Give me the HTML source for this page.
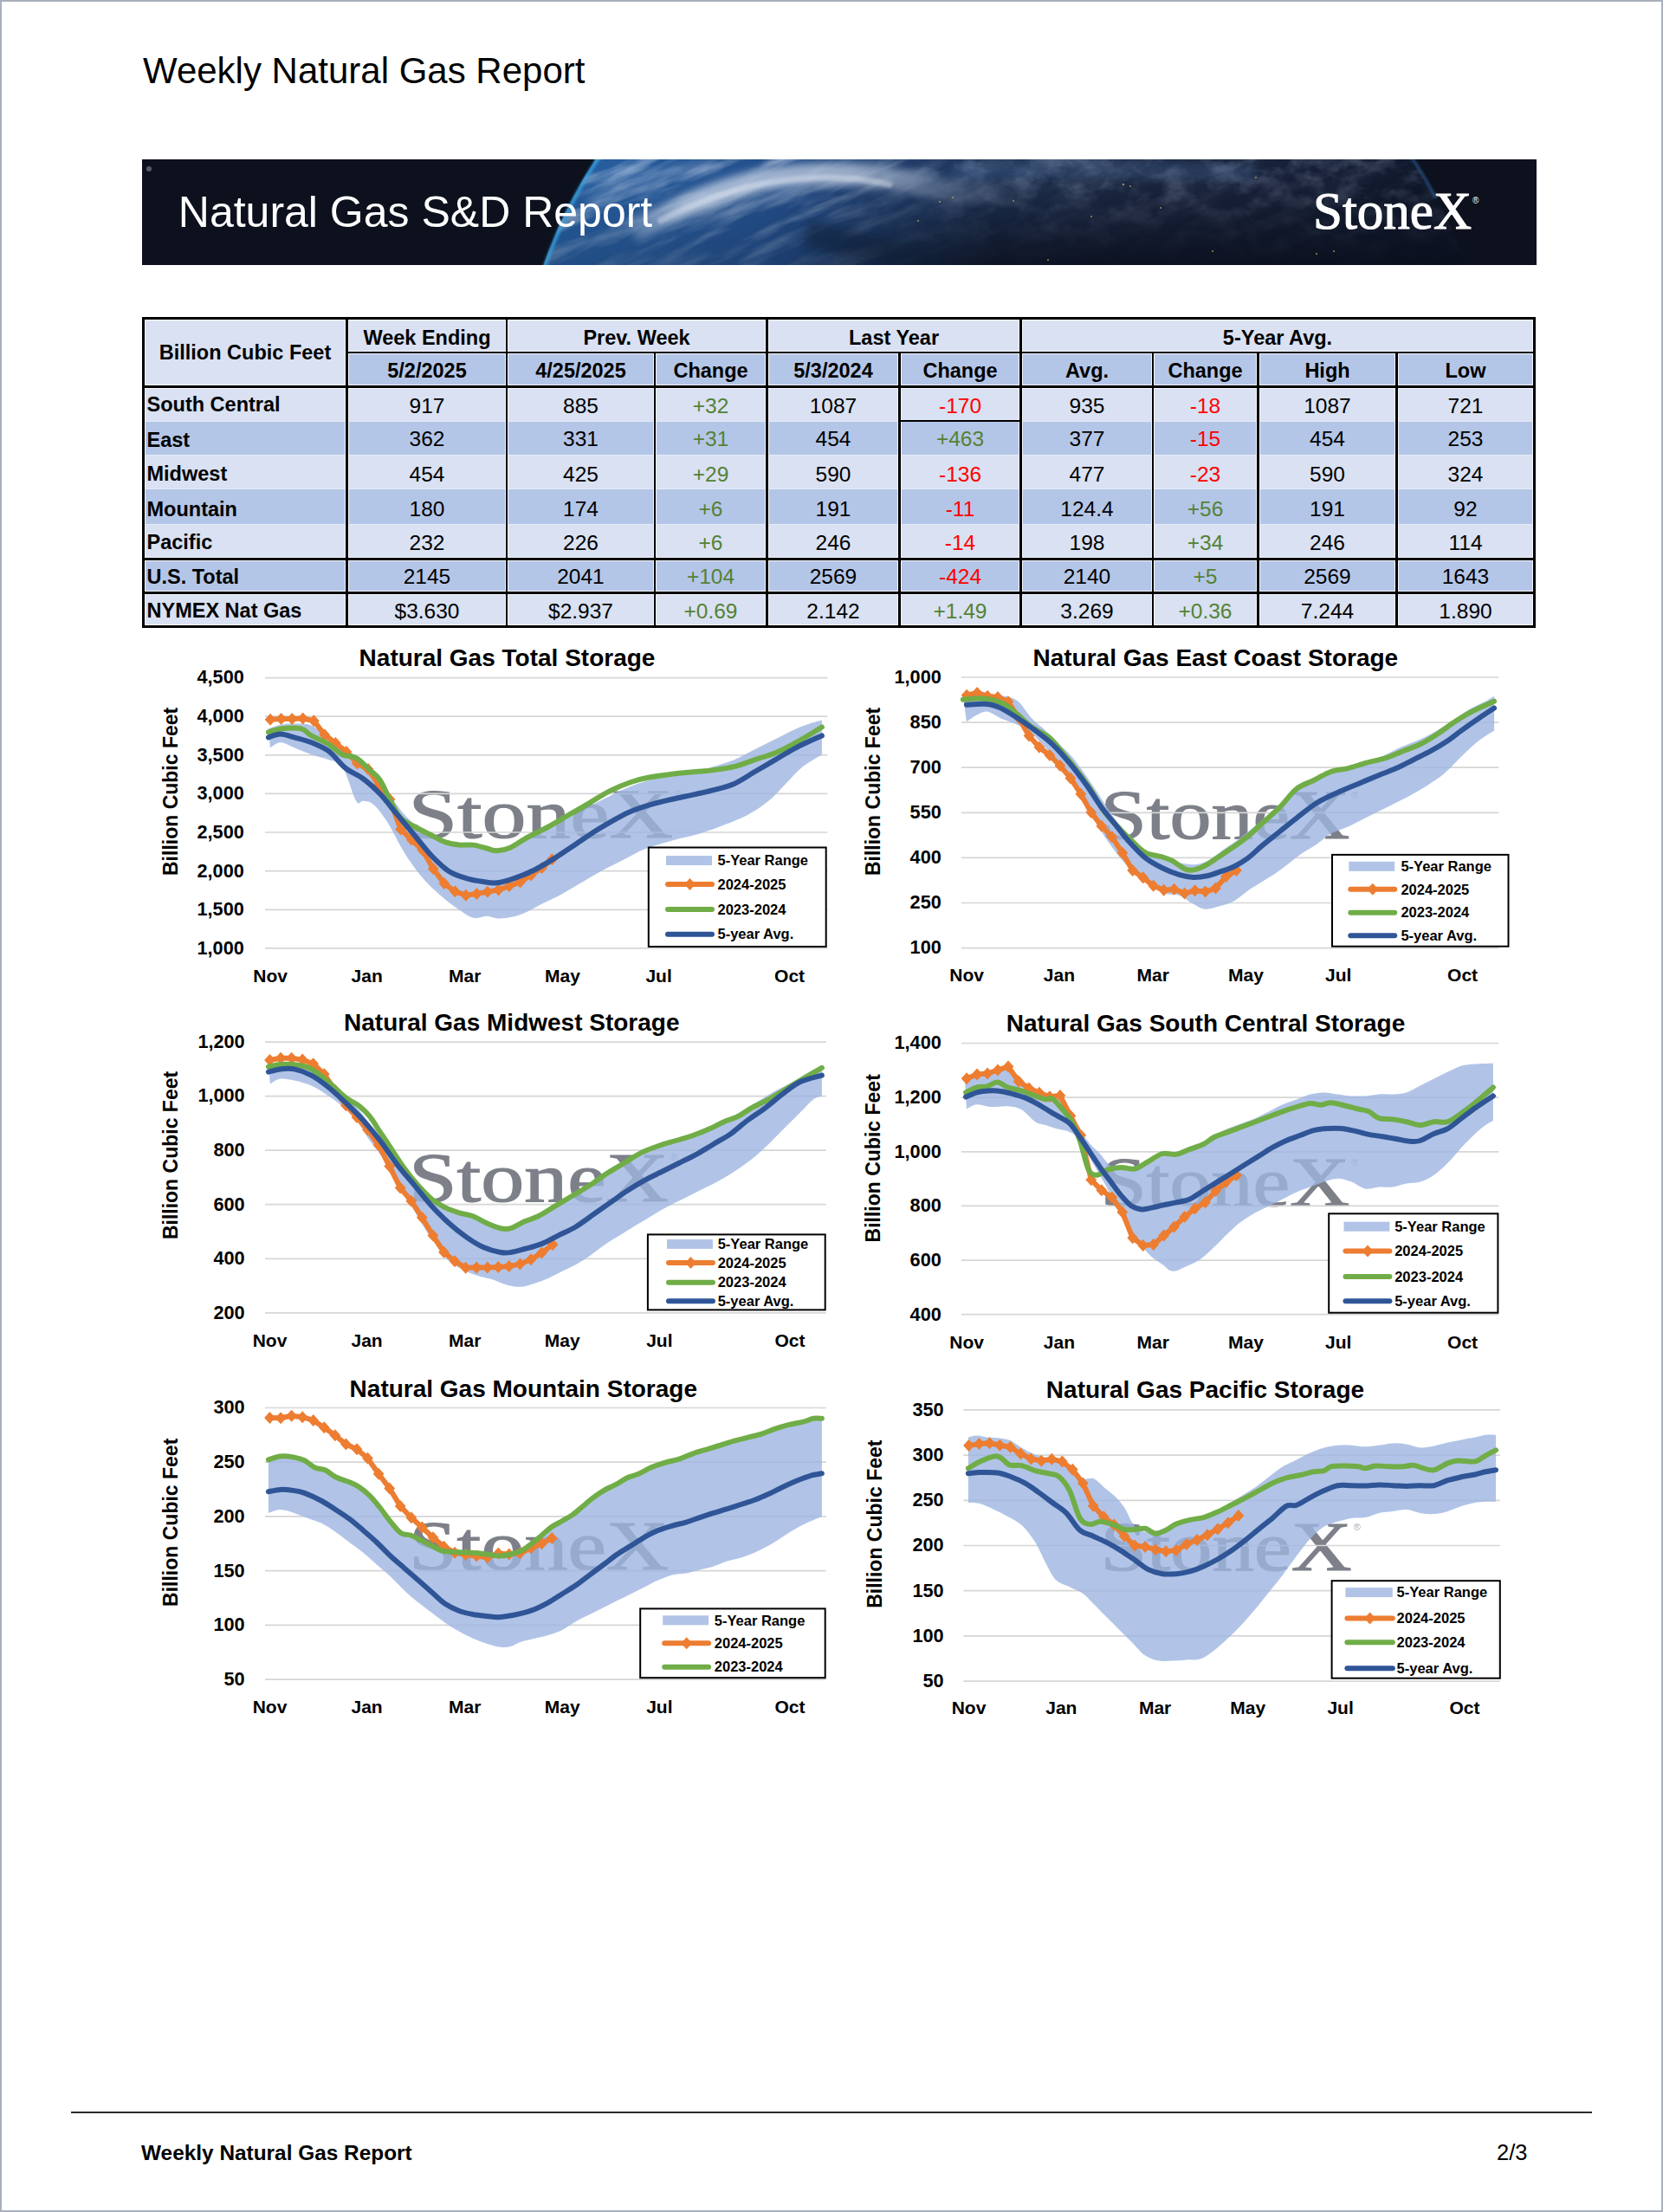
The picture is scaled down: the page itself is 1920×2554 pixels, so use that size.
<!DOCTYPE html>
<html><head><meta charset="utf-8">
<style>
html,body{margin:0;padding:0;}
body{width:1920px;height:2554px;position:relative;background:#fff;overflow:hidden;font-family:"Liberation Sans",sans-serif;color:#000;}
.frame{position:absolute;left:0;top:0;width:1916px;height:2550px;border:2px solid #a9b0bc;}
.abs{position:absolute;white-space:nowrap;line-height:1;}
#banner{position:absolute;left:164px;top:184px;width:1610px;height:122px;overflow:hidden;background:#0d111d;}
#tbl{position:absolute;left:0;top:0;}
.c{position:absolute;text-align:center;white-space:nowrap;line-height:1;}
.b{font-weight:700;font-size:23.5px;}
.d{font-size:24.5px;}
.g{color:#548235;}
.r{color:#ff0000;}
</style></head>
<body>
<div class="frame"></div>
<div class="abs" style="left:165px;top:60.5px;font-size:42px;">Weekly Natural Gas Report</div>

<div id="banner"><svg width="1610" height="122" viewBox="164 184 1610 122" style="position:absolute;left:0;top:0">
<defs>
<linearGradient id="eg" gradientUnits="userSpaceOnUse" x1="620" y1="0" x2="1700" y2="0">
<stop offset="0" stop-color="#2660a3"/>
<stop offset="0.12" stop-color="#275a9a"/>
<stop offset="0.28" stop-color="#234d88"/>
<stop offset="0.38" stop-color="#213f6d"/>
<stop offset="0.48" stop-color="#1e3254"/>
<stop offset="0.62" stop-color="#1c2944"/>
<stop offset="0.8" stop-color="#172139"/>
<stop offset="0.92" stop-color="#111a2e"/>
<stop offset="1" stop-color="#0f1628"/>
</linearGradient>
<filter id="tb" x="0" y="0" width="100%" height="100%"><feTurbulence type="fractalNoise" baseFrequency="0.010 0.06" numOctaves="4" seed="7"/><feColorMatrix type="matrix" values="0 0 0 0 0.82  0 0 0 0 0.88  0 0 0 0 0.98  0 0 0 2.6 -1.15"/></filter>
<linearGradient id="tm" gradientUnits="userSpaceOnUse" x1="620" y1="0" x2="1700" y2="0"><stop offset="0" stop-color="#fff" stop-opacity="1"/><stop offset="0.3" stop-color="#fff" stop-opacity="0.8"/><stop offset="0.42" stop-color="#fff" stop-opacity="0.25"/><stop offset="1" stop-color="#fff" stop-opacity="0.08"/></linearGradient>
<mask id="tmask"><rect x="600" y="184" width="1200" height="122" fill="url(#tm)"/></mask>
<linearGradient id="vd" gradientUnits="userSpaceOnUse" x1="0" y1="200" x2="0" y2="306"><stop offset="0" stop-color="#0a0e1b" stop-opacity="0"/><stop offset="0.45" stop-color="#0a0e1b" stop-opacity="0.35"/><stop offset="1" stop-color="#0a0e1b" stop-opacity="0.85"/></linearGradient>
<linearGradient id="hm" gradientUnits="userSpaceOnUse" x1="880" y1="0" x2="1150" y2="0"><stop offset="0" stop-color="#fff" stop-opacity="0.25"/><stop offset="1" stop-color="#fff" stop-opacity="1"/></linearGradient>
<mask id="hmask"><rect x="600" y="184" width="1200" height="122" fill="url(#hm)"/></mask>
<filter id="bl" x="-50%" y="-200%" width="200%" height="500%"><feGaussianBlur stdDeviation="5"/></filter>
<filter id="bl3" x="-50%" y="-200%" width="200%" height="500%"><feGaussianBlur stdDeviation="3"/></filter>
<filter id="bl2" x="-50%" y="-200%" width="200%" height="500%"><feGaussianBlur stdDeviation="1.5"/></filter>
<filter id="tb2" x="0" y="0" width="100%" height="100%"><feTurbulence type="fractalNoise" baseFrequency="0.035 0.05" numOctaves="4" seed="11"/><feColorMatrix type="matrix" values="0 0 0 0 0.6  0 0 0 0 0.7  0 0 0 0 0.9  0 0 0 2.4 -1.0"/></filter>
<linearGradient id="tm2" gradientUnits="userSpaceOnUse" x1="0" y1="184" x2="0" y2="306"><stop offset="0" stop-color="#fff" stop-opacity="0.8"/><stop offset="0.5" stop-color="#fff" stop-opacity="0.45"/><stop offset="1" stop-color="#fff" stop-opacity="0.1"/></linearGradient>
<mask id="tmask2"><rect x="950" y="184" width="850" height="122" fill="url(#tm2)"/></mask>
<linearGradient id="hm2" gradientUnits="userSpaceOnUse" x1="950" y1="0" x2="1120" y2="0"><stop offset="0" stop-color="#fff" stop-opacity="0"/><stop offset="1" stop-color="#fff" stop-opacity="1"/></linearGradient>
<mask id="hmask2"><rect x="900" y="184" width="900" height="122" fill="url(#hm2)"/></mask>
<linearGradient id="sg" gradientUnits="userSpaceOnUse" x1="720" y1="0" x2="1200" y2="0"><stop offset="0" stop-color="#d0daea" stop-opacity="0.2"/><stop offset="0.15" stop-color="#d0daea" stop-opacity="1"/><stop offset="0.55" stop-color="#d0daea" stop-opacity="0.9"/><stop offset="0.8" stop-color="#9fb0c8" stop-opacity="0.35"/><stop offset="1" stop-color="#9fb0c8" stop-opacity="0"/></linearGradient>
<linearGradient id="tv" gradientUnits="userSpaceOnUse" x1="0" y1="184" x2="0" y2="306"><stop offset="0" stop-color="#fff" stop-opacity="1"/><stop offset="0.6" stop-color="#fff" stop-opacity="0.75"/><stop offset="1" stop-color="#fff" stop-opacity="0.4"/></linearGradient>
<mask id="tvmask"><rect x="600" y="184" width="1200" height="122" fill="url(#tv)"/></mask>
<clipPath id="ec"><circle cx="1160" cy="492" r="564"/></clipPath>
<clipPath id="lc"><rect x="600" y="184" width="150" height="122"/></clipPath>
<clipPath id="rc"><rect x="1580" y="184" width="120" height="45"/></clipPath>
</defs>
<rect x="164" y="184" width="1610" height="122" fill="#0d111d"/>
<circle cx="1160" cy="492" r="564" fill="url(#eg)"/>
<g clip-path="url(#ec)">
<g mask="url(#tvmask)"><g mask="url(#tmask)"><rect x="400" y="-200" width="1500" height="900" filter="url(#tb)" opacity="0.55" transform="rotate(-22 1000 245)"/></g></g>
<g mask="url(#tmask2)"><rect x="950" y="184" width="800" height="122" filter="url(#tb2)" mask="url(#hmask2)" opacity="0.35"/></g>
<rect x="600" y="184" width="1200" height="122" fill="url(#vd)" mask="url(#hmask)"/>
<path d="M730 268 C 785 238, 845 212, 900 205 S 1010 200, 1060 212 S 1150 222, 1200 222" stroke="url(#sg)" stroke-width="26" fill="none" opacity="0.75" filter="url(#bl)"/>
<path d="M760 256 C 800 234, 850 216, 900 209 S 990 204, 1030 214" stroke="#eef2f8" stroke-width="7" fill="none" opacity="0.35" filter="url(#bl2)"/>
<path d="M680 236 C 715 212, 770 198, 830 190" stroke="#b9c8e0" stroke-width="12" fill="none" opacity="0.3" filter="url(#bl)"/>
<path d="M1100 200 C 1200 190, 1300 195, 1450 200" stroke="#4a6a9a" stroke-width="20" fill="none" opacity="0.3" filter="url(#bl)"/>
<path d="M930 270 C 980 280, 1040 295, 1080 306" stroke="#0f1a33" stroke-width="30" fill="none" opacity="0.45" filter="url(#bl)"/>
</g>
<circle cx="1160" cy="492" r="562" fill="none" stroke="#35a0dc" stroke-width="4" opacity="0.85" filter="url(#bl2)" clip-path="url(#lc)"/>
<circle cx="1160" cy="492" r="563" fill="none" stroke="#2f5d9a" stroke-width="3" opacity="0.7" filter="url(#bl2)" clip-path="url(#rc)"/>
<g fill="#c9a45a" opacity="0.8">
<circle cx="1297" cy="213" r="1.2"/><circle cx="1305" cy="215" r="1"/><circle cx="1450" cy="205" r="1"/><circle cx="1170" cy="232" r="1"/><circle cx="1260" cy="250" r="1"/><circle cx="1340" cy="240" r="1"/><circle cx="1400" cy="290" r="1"/><circle cx="1520" cy="293" r="1"/><circle cx="1540" cy="290" r="1"/><circle cx="1060" cy="255" r="1"/><circle cx="1210" cy="300" r="1"/><circle cx="1085" cy="233" r="1"/><circle cx="1100" cy="228" r="1"/>
</g>
<text x="205.8" y="262" font-family="Liberation Sans" font-size="50" fill="#fff">Natural Gas S&amp;D Report</text>
<text x="1516" y="264" font-family="Liberation Serif" font-size="61" fill="#fff" stroke="#fff" stroke-width="1.1">StoneX</text>
<text x="1700" y="235" font-family="Liberation Sans" font-size="10" fill="#fff">®</text>
<circle cx="172" cy="195" r="3" fill="#6b6f7a" opacity="0.8"/>
</svg>
</div>

<div id="tbl"><div style="position:absolute;left:164px;top:366px;width:1609px;height:359px;background:#d9e1f2"></div>
<div style="position:absolute;left:399px;top:406px;width:1374px;height:40px;background:#b4c6e7"></div>
<div style="position:absolute;left:164px;top:486px;width:1609px;height:39px;background:#b4c6e7"></div>
<div style="position:absolute;left:164px;top:564px;width:1609px;height:41px;background:#b4c6e7"></div>
<div style="position:absolute;left:164px;top:645px;width:1609px;height:39px;background:#b4c6e7"></div>
<div style="position:absolute;left:167px;top:369px;width:1px;height:353px;background:#f3f5fb"></div>
<div style="position:absolute;left:398px;top:369px;width:1px;height:353px;background:#f3f5fb"></div>
<div style="position:absolute;left:402px;top:369px;width:1px;height:353px;background:#f3f5fb"></div>
<div style="position:absolute;left:583px;top:369px;width:1px;height:353px;background:#f3f5fb"></div>
<div style="position:absolute;left:586px;top:369px;width:1px;height:353px;background:#f3f5fb"></div>
<div style="position:absolute;left:754px;top:408px;width:1px;height:314px;background:#f3f5fb"></div>
<div style="position:absolute;left:757px;top:408px;width:1px;height:314px;background:#f3f5fb"></div>
<div style="position:absolute;left:883px;top:369px;width:1px;height:353px;background:#f3f5fb"></div>
<div style="position:absolute;left:887px;top:369px;width:1px;height:353px;background:#f3f5fb"></div>
<div style="position:absolute;left:1036px;top:408px;width:1px;height:314px;background:#f3f5fb"></div>
<div style="position:absolute;left:1040px;top:408px;width:1px;height:314px;background:#f3f5fb"></div>
<div style="position:absolute;left:1176px;top:369px;width:1px;height:353px;background:#f3f5fb"></div>
<div style="position:absolute;left:1180px;top:369px;width:1px;height:353px;background:#f3f5fb"></div>
<div style="position:absolute;left:1329px;top:408px;width:1px;height:314px;background:#f3f5fb"></div>
<div style="position:absolute;left:1332px;top:408px;width:1px;height:314px;background:#f3f5fb"></div>
<div style="position:absolute;left:1450px;top:408px;width:1px;height:314px;background:#f3f5fb"></div>
<div style="position:absolute;left:1454px;top:408px;width:1px;height:314px;background:#f3f5fb"></div>
<div style="position:absolute;left:1610px;top:408px;width:1px;height:314px;background:#f3f5fb"></div>
<div style="position:absolute;left:1614px;top:408px;width:1px;height:314px;background:#f3f5fb"></div>
<div style="position:absolute;left:1769px;top:369px;width:1px;height:353px;background:#f3f5fb"></div>
<div style="position:absolute;left:164px;top:369px;width:1609px;height:1px;background:#f3f5fb"></div>
<div style="position:absolute;left:399px;top:405px;width:1374px;height:1px;background:#f3f5fb"></div>
<div style="position:absolute;left:399px;top:408px;width:1374px;height:1px;background:#f3f5fb"></div>
<div style="position:absolute;left:164px;top:444px;width:1609px;height:1px;background:#f3f5fb"></div>
<div style="position:absolute;left:164px;top:448px;width:1609px;height:1px;background:#f3f5fb"></div>
<div style="position:absolute;left:164px;top:643px;width:1609px;height:1px;background:#f3f5fb"></div>
<div style="position:absolute;left:164px;top:647px;width:1609px;height:1px;background:#f3f5fb"></div>
<div style="position:absolute;left:164px;top:682px;width:1609px;height:1px;background:#f3f5fb"></div>
<div style="position:absolute;left:164px;top:686px;width:1609px;height:1px;background:#f3f5fb"></div>
<div style="position:absolute;left:164px;top:721px;width:1609px;height:1px;background:#f3f5fb"></div>
<div style="position:absolute;left:164px;top:486px;width:1609px;height:1px;background:#e6ebf7"></div>
<div style="position:absolute;left:164px;top:525px;width:1609px;height:1px;background:#e6ebf7"></div>
<div style="position:absolute;left:164px;top:564px;width:1609px;height:1px;background:#e6ebf7"></div>
<div style="position:absolute;left:164px;top:605px;width:1609px;height:1px;background:#e6ebf7"></div>
<div style="position:absolute;left:164px;top:366px;width:3px;height:359px;background:#000"></div>
<div style="position:absolute;left:399px;top:366px;width:3px;height:359px;background:#000"></div>
<div style="position:absolute;left:584px;top:366px;width:2px;height:359px;background:#000"></div>
<div style="position:absolute;left:755px;top:406px;width:2px;height:319px;background:#000"></div>
<div style="position:absolute;left:884px;top:366px;width:3px;height:359px;background:#000"></div>
<div style="position:absolute;left:1037px;top:406px;width:3px;height:319px;background:#000"></div>
<div style="position:absolute;left:1177px;top:366px;width:3px;height:359px;background:#000"></div>
<div style="position:absolute;left:1330px;top:406px;width:2px;height:319px;background:#000"></div>
<div style="position:absolute;left:1451px;top:406px;width:3px;height:319px;background:#000"></div>
<div style="position:absolute;left:1611px;top:406px;width:3px;height:319px;background:#000"></div>
<div style="position:absolute;left:1770px;top:366px;width:3px;height:359px;background:#000"></div>
<div style="position:absolute;left:164px;top:366px;width:1609px;height:3px;background:#000"></div>
<div style="position:absolute;left:399px;top:406px;width:1374px;height:2px;background:#000"></div>
<div style="position:absolute;left:164px;top:445px;width:1609px;height:3px;background:#000"></div>
<div style="position:absolute;left:164px;top:644px;width:1609px;height:3px;background:#000"></div>
<div style="position:absolute;left:164px;top:683px;width:1609px;height:3px;background:#000"></div>
<div style="position:absolute;left:164px;top:722px;width:1609px;height:3px;background:#000"></div>
<div style="position:absolute;left:1037px;top:485px;width:143px;height:2px;background:#000"></div>
<div class="c b" style="left:133px;width:300px;top:396.1px;">Billion Cubic Feet</div>
<div class="c b" style="left:343.0px;width:300px;top:378.6px;">Week Ending</div>
<div class="c b" style="left:585.0px;width:300px;top:378.6px;">Prev. Week</div>
<div class="c b" style="left:882.0px;width:300px;top:378.6px;">Last Year</div>
<div class="c b" style="left:1325.0px;width:300px;top:378.6px;">5-Year Avg.</div>
<div class="c b" style="left:343.0px;width:300px;top:416.8px;">5/2/2025</div>
<div class="c b" style="left:520.5px;width:300px;top:416.8px;">4/25/2025</div>
<div class="c b" style="left:670.5px;width:300px;top:416.8px;">Change</div>
<div class="c b" style="left:812.0px;width:300px;top:416.8px;">5/3/2024</div>
<div class="c b" style="left:958.5px;width:300px;top:416.8px;">Change</div>
<div class="c b" style="left:1105.0px;width:300px;top:416.8px;">Avg.</div>
<div class="c b" style="left:1241.5px;width:300px;top:416.8px;">Change</div>
<div class="c b" style="left:1382.5px;width:300px;top:416.8px;">High</div>
<div class="c b" style="left:1542.0px;width:300px;top:416.8px;">Low</div>
<div class="abs b" style="left:169.5px;top:455.9px;">South Central</div>
<div class="c d" style="left:343.0px;width:300px;top:456.6px;">917</div>
<div class="c d" style="left:520.5px;width:300px;top:456.6px;">885</div>
<div class="c d g" style="left:670.5px;width:300px;top:456.6px;">+32</div>
<div class="c d" style="left:812.0px;width:300px;top:456.6px;">1087</div>
<div class="c d r" style="left:958.5px;width:300px;top:456.6px;">-170</div>
<div class="c d" style="left:1105.0px;width:300px;top:456.6px;">935</div>
<div class="c d r" style="left:1241.5px;width:300px;top:456.6px;">-18</div>
<div class="c d" style="left:1382.5px;width:300px;top:456.6px;">1087</div>
<div class="c d" style="left:1542.0px;width:300px;top:456.6px;">721</div>
<div class="abs b" style="left:169.5px;top:497.2px;">East</div>
<div class="c d" style="left:343.0px;width:300px;top:495.1px;">362</div>
<div class="c d" style="left:520.5px;width:300px;top:495.1px;">331</div>
<div class="c d g" style="left:670.5px;width:300px;top:495.1px;">+31</div>
<div class="c d" style="left:812.0px;width:300px;top:495.1px;">454</div>
<div class="c d g" style="left:958.5px;width:300px;top:495.1px;">+463</div>
<div class="c d" style="left:1105.0px;width:300px;top:495.1px;">377</div>
<div class="c d r" style="left:1241.5px;width:300px;top:495.1px;">-15</div>
<div class="c d" style="left:1382.5px;width:300px;top:495.1px;">454</div>
<div class="c d" style="left:1542.0px;width:300px;top:495.1px;">253</div>
<div class="abs b" style="left:169.5px;top:536.2px;">Midwest</div>
<div class="c d" style="left:343.0px;width:300px;top:536.4px;">454</div>
<div class="c d" style="left:520.5px;width:300px;top:536.4px;">425</div>
<div class="c d g" style="left:670.5px;width:300px;top:536.4px;">+29</div>
<div class="c d" style="left:812.0px;width:300px;top:536.4px;">590</div>
<div class="c d r" style="left:958.5px;width:300px;top:536.4px;">-136</div>
<div class="c d" style="left:1105.0px;width:300px;top:536.4px;">477</div>
<div class="c d r" style="left:1241.5px;width:300px;top:536.4px;">-23</div>
<div class="c d" style="left:1382.5px;width:300px;top:536.4px;">590</div>
<div class="c d" style="left:1542.0px;width:300px;top:536.4px;">324</div>
<div class="abs b" style="left:169.5px;top:576.5px;">Mountain</div>
<div class="c d" style="left:343.0px;width:300px;top:576.1px;">180</div>
<div class="c d" style="left:520.5px;width:300px;top:576.1px;">174</div>
<div class="c d g" style="left:670.5px;width:300px;top:576.1px;">+6</div>
<div class="c d" style="left:812.0px;width:300px;top:576.1px;">191</div>
<div class="c d r" style="left:958.5px;width:300px;top:576.1px;">-11</div>
<div class="c d" style="left:1105.0px;width:300px;top:576.1px;">124.4</div>
<div class="c d g" style="left:1241.5px;width:300px;top:576.1px;">+56</div>
<div class="c d" style="left:1382.5px;width:300px;top:576.1px;">191</div>
<div class="c d" style="left:1542.0px;width:300px;top:576.1px;">92</div>
<div class="abs b" style="left:169.5px;top:615.4px;">Pacific</div>
<div class="c d" style="left:343.0px;width:300px;top:615.0px;">232</div>
<div class="c d" style="left:520.5px;width:300px;top:615.0px;">226</div>
<div class="c d g" style="left:670.5px;width:300px;top:615.0px;">+6</div>
<div class="c d" style="left:812.0px;width:300px;top:615.0px;">246</div>
<div class="c d r" style="left:958.5px;width:300px;top:615.0px;">-14</div>
<div class="c d" style="left:1105.0px;width:300px;top:615.0px;">198</div>
<div class="c d g" style="left:1241.5px;width:300px;top:615.0px;">+34</div>
<div class="c d" style="left:1382.5px;width:300px;top:615.0px;">246</div>
<div class="c d" style="left:1542.0px;width:300px;top:615.0px;">114</div>
<div class="abs b" style="left:169.5px;top:654.9px;">U.S. Total</div>
<div class="c d" style="left:343.0px;width:300px;top:654.4px;">2145</div>
<div class="c d" style="left:520.5px;width:300px;top:654.4px;">2041</div>
<div class="c d g" style="left:670.5px;width:300px;top:654.4px;">+104</div>
<div class="c d" style="left:812.0px;width:300px;top:654.4px;">2569</div>
<div class="c d r" style="left:958.5px;width:300px;top:654.4px;">-424</div>
<div class="c d" style="left:1105.0px;width:300px;top:654.4px;">2140</div>
<div class="c d g" style="left:1241.5px;width:300px;top:654.4px;">+5</div>
<div class="c d" style="left:1382.5px;width:300px;top:654.4px;">2569</div>
<div class="c d" style="left:1542.0px;width:300px;top:654.4px;">1643</div>
<div class="abs b" style="left:169.5px;top:694.0px;">NYMEX Nat Gas</div>
<div class="c d" style="left:343.0px;width:300px;top:693.5px;">$3.630</div>
<div class="c d" style="left:520.5px;width:300px;top:693.5px;">$2.937</div>
<div class="c d g" style="left:670.5px;width:300px;top:693.5px;">+0.69</div>
<div class="c d" style="left:812.0px;width:300px;top:693.5px;">2.142</div>
<div class="c d g" style="left:958.5px;width:300px;top:693.5px;">+1.49</div>
<div class="c d" style="left:1105.0px;width:300px;top:693.5px;">3.269</div>
<div class="c d g" style="left:1241.5px;width:300px;top:693.5px;">+0.36</div>
<div class="c d" style="left:1382.5px;width:300px;top:693.5px;">7.244</div>
<div class="c d" style="left:1542.0px;width:300px;top:693.5px;">1.890</div></div>

<div id="charts"><svg width="1920" height="2554" viewBox="0 0 1920 2554" style="position:absolute;left:0;top:0" font-family="Liberation Sans" font-weight="700">
<g><text x="471.6" y="966.5" font-family="Liberation Serif" font-weight="400" font-size="81" fill="#7d8089" stroke="#7d8089" stroke-width="1.2" textLength="305.4" lengthAdjust="spacingAndGlyphs">StoneX</text>
<text x="779.0" y="920.0" font-weight="400" font-size="11" fill="#7d8089" opacity="0.7">®</text>
<line x1="306" y1="782.6" x2="955.4" y2="782.6" stroke="#d6d6d6" stroke-width="1.7"/>
<line x1="306" y1="827.2" x2="955.4" y2="827.2" stroke="#d6d6d6" stroke-width="1.7"/>
<line x1="306" y1="871.8" x2="955.4" y2="871.8" stroke="#d6d6d6" stroke-width="1.7"/>
<line x1="306" y1="916.4" x2="955.4" y2="916.4" stroke="#d6d6d6" stroke-width="1.7"/>
<line x1="306" y1="961.0" x2="955.4" y2="961.0" stroke="#d6d6d6" stroke-width="1.7"/>
<line x1="306" y1="1005.7" x2="955.4" y2="1005.7" stroke="#d6d6d6" stroke-width="1.7"/>
<line x1="306" y1="1050.3" x2="955.4" y2="1050.3" stroke="#d6d6d6" stroke-width="1.7"/>
<line x1="306" y1="1094.9" x2="955.4" y2="1094.9" stroke="#d6d6d6" stroke-width="1.7"/>
<path d="M309.9,841.4 C312.2,840.6 318.9,837.7 323.8,836.7 C328.8,835.7 333.7,835.4 339.7,835.5 C345.6,835.6 352.9,834.5 359.5,837.5 C366.1,840.4 372.8,848.7 379.4,853.3 C386.0,858.0 392.6,860.9 399.2,865.2 C405.8,869.5 412.4,873.2 419.1,879.1 C425.7,885.1 433.0,893.4 438.9,901.0 C444.9,908.6 449.5,917.5 454.8,924.8 C460.1,932.1 464.7,938.7 470.7,944.6 C476.6,950.6 483.9,955.9 490.5,960.5 C497.1,965.1 502.4,969.8 510.3,972.4 C518.3,975.1 530.2,975.4 538.1,976.4 C546.1,977.4 551.4,977.7 558.0,978.4 C564.6,979.0 570.5,981.3 577.8,980.3 C585.1,979.4 593.7,975.7 601.6,972.4 C609.6,969.1 617.5,964.5 625.4,960.5 C633.4,956.5 640.6,953.2 649.2,948.6 C657.8,944.0 669.1,937.0 677.0,932.7 C685.0,928.4 689.6,926.4 696.9,922.8 C704.1,919.2 712.1,914.5 720.7,910.9 C729.3,907.3 739.2,903.6 748.5,901.0 C757.7,898.3 767.0,896.7 776.2,895.0 C785.5,893.4 796.1,892.7 804.0,891.0 C812.0,889.4 816.6,887.4 823.9,885.1 C831.1,882.8 839.7,880.5 847.7,877.2 C855.6,873.8 863.6,869.2 871.5,865.2 C879.4,861.3 887.4,857.3 895.3,853.3 C903.2,849.4 912.5,844.4 919.1,841.4 C925.7,838.5 930.0,837.1 935.0,835.5 C940.0,833.8 946.6,832.2 948.9,831.5 L948.9,871.2 C945.2,873.5 934.0,879.5 927.1,885.1 C920.1,890.7 913.8,898.3 907.2,904.9 C900.6,911.6 894.6,918.8 887.4,924.8 C880.1,930.7 872.2,936.0 863.6,940.7 C855.0,945.3 845.0,948.9 835.8,952.6 C826.5,956.2 817.9,959.5 808.0,962.5 C798.1,965.5 786.8,967.4 776.2,970.4 C765.7,973.4 753.8,976.7 744.5,980.3 C735.2,984.0 728.6,988.3 720.7,992.2 C712.7,996.2 704.8,999.9 696.9,1004.2 C688.9,1008.5 681.0,1013.4 673.1,1018.0 C665.1,1022.7 657.2,1027.6 649.2,1031.9 C641.3,1036.2 633.4,1039.9 625.4,1043.8 C617.5,1047.8 609.6,1053.0 601.6,1055.7 C593.7,1058.5 584.4,1060.2 577.8,1060.5 C571.2,1060.8 567.2,1057.9 561.9,1057.7 C556.6,1057.6 552.0,1061.4 546.1,1059.7 C540.1,1058.1 532.8,1052.4 526.2,1047.8 C519.6,1043.2 513.0,1037.9 506.4,1031.9 C499.8,1026.0 493.1,1020.0 486.5,1012.1 C479.9,1004.2 473.3,994.9 466.7,984.3 C460.1,973.7 452.8,957.9 446.8,948.6 C440.9,939.3 435.6,932.7 431.0,928.7 C426.3,924.8 422.4,925.4 419.1,924.8 C415.8,924.1 415.1,931.4 411.1,924.8 C407.2,918.2 400.5,893.0 395.2,885.1 C390.0,877.2 385.3,879.5 379.4,877.2 C373.4,874.8 366.1,873.5 359.5,871.2 C352.9,868.9 345.6,865.6 339.7,863.3 C333.7,860.9 328.4,857.3 323.8,857.3 C319.2,857.3 313.9,862.3 311.9,863.3Z" fill="#9db5e1" fill-opacity="0.8"/>
<path d="M312.1,830.8 L324.6,829.9 L337.2,830.0 L349.7,829.5 L362.3,832.2 L374.8,848.5 L387.4,858.0 L399.9,867.9 L412.4,881.6 L425.0,888.0 L437.5,906.8 L450.1,923.1 L462.6,957.4 L475.1,969.5 L487.7,981.5 L500.2,1002.9 L512.8,1020.1 L525.3,1029.3 L537.9,1033.7 L550.4,1031.9 L562.9,1029.8 L575.5,1027.4 L588.0,1023.1 L600.6,1018.4 L613.1,1010.4 L625.6,1002.0 L637.3,992.2" fill="none" stroke="#ed7d31" stroke-width="6" stroke-linejoin="round" stroke-linecap="round"/>
<path d="M312.1,823.8L318.5,830.8L312.1,837.8L305.7,830.8ZM324.6,822.9L331.0,829.9L324.6,836.9L318.2,829.9ZM337.2,823.0L343.6,830.0L337.2,837.0L330.8,830.0ZM349.7,822.5L356.1,829.5L349.7,836.5L343.3,829.5ZM362.3,825.2L368.7,832.2L362.3,839.2L355.9,832.2ZM374.8,841.5L381.2,848.5L374.8,855.5L368.4,848.5ZM387.4,851.0L393.8,858.0L387.4,865.0L381.0,858.0ZM399.9,860.9L406.3,867.9L399.9,874.9L393.5,867.9ZM412.4,874.6L418.8,881.6L412.4,888.6L406.0,881.6ZM425.0,881.0L431.4,888.0L425.0,895.0L418.6,888.0ZM437.5,899.8L443.9,906.8L437.5,913.8L431.1,906.8ZM450.1,916.1L456.5,923.1L450.1,930.1L443.7,923.1ZM462.6,950.4L469.0,957.4L462.6,964.4L456.2,957.4ZM475.1,962.5L481.5,969.5L475.1,976.5L468.7,969.5ZM487.7,974.5L494.1,981.5L487.7,988.5L481.3,981.5ZM500.2,995.9L506.6,1002.9L500.2,1009.9L493.8,1002.9ZM512.8,1013.1L519.2,1020.1L512.8,1027.1L506.4,1020.1ZM525.3,1022.3L531.7,1029.3L525.3,1036.3L518.9,1029.3ZM537.9,1026.7L544.3,1033.7L537.9,1040.7L531.5,1033.7ZM550.4,1024.9L556.8,1031.9L550.4,1038.9L544.0,1031.9ZM562.9,1022.8L569.3,1029.8L562.9,1036.8L556.5,1029.8ZM575.5,1020.4L581.9,1027.4L575.5,1034.4L569.1,1027.4ZM588.0,1016.1L594.4,1023.1L588.0,1030.1L581.6,1023.1ZM600.6,1011.4L607.0,1018.4L600.6,1025.4L594.2,1018.4ZM613.1,1003.4L619.5,1010.4L613.1,1017.4L606.7,1010.4ZM625.6,995.0L632.0,1002.0L625.6,1009.0L619.2,1002.0ZM637.3,985.2L643.7,992.2L637.3,999.2L630.9,992.2Z" fill="#ed7d31"/>
<path d="M309.9,845.4 C312.2,844.7 317.5,842.1 323.8,841.4 C330.1,840.8 341.7,840.1 347.6,841.4 C353.6,842.8 354.2,846.4 359.5,849.4 C364.8,852.4 373.4,855.7 379.4,859.3 C385.3,862.9 390.0,868.6 395.2,871.2 C400.5,873.8 405.8,872.2 411.1,875.2 C416.4,878.1 422.4,884.8 427.0,889.1 C431.6,893.4 434.9,895.0 438.9,901.0 C442.9,906.9 446.8,917.5 450.8,924.8 C454.8,932.1 458.1,939.7 462.7,944.6 C467.3,949.6 472.6,951.2 478.6,954.5 C484.5,957.9 492.5,961.5 498.4,964.5 C504.4,967.4 509.0,970.6 514.3,972.4 C519.6,974.3 524.9,975.1 530.2,975.6 C535.5,976.1 540.8,974.9 546.1,975.6 C551.4,976.2 557.3,978.4 561.9,979.5 C566.6,980.7 569.2,982.5 573.8,982.3 C578.5,982.1 583.8,981.0 589.7,978.4 C595.7,975.7 602.3,970.4 609.6,966.5 C616.8,962.5 625.4,958.8 633.4,954.5 C641.3,950.2 649.2,945.3 657.2,940.7 C665.1,936.0 673.1,931.4 681.0,926.8 C688.9,922.1 696.9,916.8 704.8,912.9 C712.7,908.9 721.3,905.5 728.6,903.0 C735.9,900.4 740.5,899.3 748.5,897.8 C756.4,896.3 767.0,894.9 776.2,893.8 C785.5,892.7 796.1,891.8 804.0,891.0 C812.0,890.3 816.6,890.1 823.9,889.1 C831.1,888.1 839.7,887.1 847.7,885.1 C855.6,883.1 863.6,879.8 871.5,877.2 C879.4,874.5 887.4,872.5 895.3,869.2 C903.2,865.9 910.2,862.3 919.1,857.3 C928.1,852.4 943.9,842.4 948.9,839.5" fill="none" stroke="#70ad47" stroke-width="6" stroke-linejoin="round" stroke-linecap="round"/>
<path d="M309.9,851.4 C312.2,850.7 318.9,847.4 323.8,847.4 C328.8,847.4 333.7,849.7 339.7,851.4 C345.6,853.0 352.9,854.7 359.5,857.3 C366.1,860.0 372.8,862.3 379.4,867.2 C386.0,872.2 392.6,881.8 399.2,887.1 C405.8,892.4 412.4,894.0 419.1,899.0 C425.7,903.9 432.3,909.9 438.9,916.8 C445.5,923.8 452.1,932.7 458.7,940.7 C465.4,948.6 472.0,956.5 478.6,964.5 C485.2,972.4 491.8,981.3 498.4,988.3 C505.1,995.2 511.7,1001.8 518.3,1006.1 C524.9,1010.4 531.5,1012.1 538.1,1014.1 C544.7,1016.1 552.0,1017.2 558.0,1018.0 C563.9,1018.9 567.9,1019.9 573.8,1019.2 C579.8,1018.6 586.4,1016.6 593.7,1014.1 C601.0,1011.6 609.6,1008.1 617.5,1004.2 C625.4,1000.2 633.4,995.2 641.3,990.3 C649.2,985.3 657.2,979.7 665.1,974.4 C673.1,969.1 681.0,963.5 688.9,958.5 C696.9,953.6 706.1,948.3 712.7,944.6 C719.4,941.0 722.0,939.3 728.6,936.7 C735.2,934.0 744.5,931.1 752.4,928.7 C760.4,926.4 768.3,924.6 776.2,922.8 C784.2,920.9 792.1,919.4 800.1,917.6 C808.0,915.9 815.9,914.2 823.9,912.1 C831.8,910.0 839.7,908.4 847.7,904.9 C855.6,901.4 863.6,895.7 871.5,891.0 C879.4,886.4 887.4,881.8 895.3,877.2 C903.2,872.5 910.2,867.9 919.1,863.3 C928.1,858.6 943.9,851.7 948.9,849.4" fill="none" stroke="#2f5597" stroke-width="6" stroke-linejoin="round" stroke-linecap="round"/>
<text x="585.5" y="769" text-anchor="middle" font-size="28">Natural Gas Total Storage</text>
<text x="281.8" y="789.4" text-anchor="end" font-size="21.7">4,500</text>
<text x="281.8" y="834.0" text-anchor="end" font-size="21.7">4,000</text>
<text x="281.8" y="878.6" text-anchor="end" font-size="21.7">3,500</text>
<text x="281.8" y="923.2" text-anchor="end" font-size="21.7">3,000</text>
<text x="281.8" y="967.8" text-anchor="end" font-size="21.7">2,500</text>
<text x="281.8" y="1012.5" text-anchor="end" font-size="21.7">2,000</text>
<text x="281.8" y="1057.1" text-anchor="end" font-size="21.7">1,500</text>
<text x="281.8" y="1101.7" text-anchor="end" font-size="21.7">1,000</text>
<text transform="translate(204.5,913.9) rotate(-90)" text-anchor="middle" font-size="23">Billion Cubic Feet</text>
<text x="312.1" y="1134.1" text-anchor="middle" font-size="21">Nov</text>
<text x="423.7" y="1134.1" text-anchor="middle" font-size="21">Jan</text>
<text x="536.8" y="1134.1" text-anchor="middle" font-size="21">Mar</text>
<text x="649.5" y="1134.1" text-anchor="middle" font-size="21">May</text>
<text x="760.6" y="1134.1" text-anchor="middle" font-size="21">Jul</text>
<text x="911.6" y="1134.1" text-anchor="middle" font-size="21">Oct</text>
<rect x="748.8" y="978.5" width="204.9" height="114.5" fill="#fff" stroke="#000" stroke-width="2"/>
<rect x="769.0" y="988.0" width="53.0" height="11" fill="#9db5e1" fill-opacity="0.8"/>
<text x="828.5" y="999.2" font-size="16.5">5-Year Range</text>
<line x1="771.0" y1="1021.0" x2="822.0" y2="1021.0" stroke="#ed7d31" stroke-width="6" stroke-linecap="round"/>
<path d="M796.5,1014.0L802.9,1021.0L796.5,1028.0L790.1,1021.0Z" fill="#ed7d31"/>
<text x="828.5" y="1026.7" font-size="16.5">2024-2025</text>
<line x1="771.0" y1="1050.1" x2="822.0" y2="1050.1" stroke="#70ad47" stroke-width="6" stroke-linecap="round"/>
<text x="828.5" y="1055.8" font-size="16.5">2023-2024</text>
<line x1="771.0" y1="1078.7" x2="822.0" y2="1078.7" stroke="#2f5597" stroke-width="6" stroke-linecap="round"/>
<text x="828.5" y="1084.4" font-size="16.5">5-year Avg.</text></g>
<g><text x="1270.4" y="968.2" font-family="Liberation Serif" font-weight="400" font-size="81" fill="#7d8089" stroke="#7d8089" stroke-width="1.2" textLength="287.9" lengthAdjust="spacingAndGlyphs">StoneX</text>
<text x="1560.3" y="921.7" font-weight="400" font-size="11" fill="#7d8089" opacity="0.7">®</text>
<line x1="1109.9" y1="782.0" x2="1730.4" y2="782.0" stroke="#d6d6d6" stroke-width="1.7"/>
<line x1="1109.9" y1="834.1" x2="1730.4" y2="834.1" stroke="#d6d6d6" stroke-width="1.7"/>
<line x1="1109.9" y1="886.2" x2="1730.4" y2="886.2" stroke="#d6d6d6" stroke-width="1.7"/>
<line x1="1109.9" y1="938.3" x2="1730.4" y2="938.3" stroke="#d6d6d6" stroke-width="1.7"/>
<line x1="1109.9" y1="990.4" x2="1730.4" y2="990.4" stroke="#d6d6d6" stroke-width="1.7"/>
<line x1="1109.9" y1="1042.5" x2="1730.4" y2="1042.5" stroke="#d6d6d6" stroke-width="1.7"/>
<line x1="1109.9" y1="1094.6" x2="1730.4" y2="1094.6" stroke="#d6d6d6" stroke-width="1.7"/>
<path d="M1111.9,803.7 C1114.6,803.4 1123.2,801.7 1127.8,801.7 C1132.4,801.7 1134.4,803.4 1139.7,803.7 C1145.0,804.1 1153.6,802.7 1159.5,803.7 C1165.5,804.7 1170.1,805.4 1175.4,809.7 C1180.7,814.0 1186.0,823.9 1191.3,829.5 C1196.6,835.2 1201.9,838.5 1207.2,843.4 C1212.4,848.4 1217.7,854.0 1223.0,859.3 C1228.3,864.6 1233.6,868.9 1238.9,875.2 C1244.2,881.5 1249.5,889.4 1254.8,897.0 C1260.1,904.6 1265.4,912.9 1270.7,920.8 C1275.9,928.7 1280.6,936.7 1286.5,944.6 C1292.5,952.6 1300.4,961.8 1306.4,968.4 C1312.3,975.1 1316.3,980.3 1322.2,984.3 C1328.2,988.3 1335.5,990.3 1342.1,992.2 C1348.7,994.2 1356.0,995.2 1361.9,996.2 C1367.9,997.2 1372.5,998.5 1377.8,998.2 C1383.1,997.9 1387.7,997.2 1393.7,994.2 C1399.6,991.3 1406.9,985.0 1413.5,980.3 C1420.1,975.7 1426.1,972.1 1433.4,966.5 C1440.6,960.8 1449.9,952.9 1457.2,946.6 C1464.5,940.3 1470.4,934.4 1477.0,928.7 C1483.6,923.1 1490.3,917.5 1496.9,912.9 C1503.5,908.2 1510.1,904.6 1516.7,901.0 C1523.3,897.3 1529.9,893.7 1536.6,891.0 C1543.2,888.4 1549.8,887.1 1556.4,885.1 C1563.0,883.1 1569.6,881.1 1576.2,879.1 C1582.9,877.2 1589.5,875.8 1596.1,873.2 C1602.7,870.5 1609.3,866.2 1615.9,863.3 C1622.5,860.3 1629.2,858.3 1635.8,855.3 C1642.4,852.4 1649.0,849.0 1655.6,845.4 C1662.2,841.8 1668.9,837.8 1675.5,833.5 C1682.1,829.2 1688.7,823.6 1695.3,819.6 C1701.9,815.6 1710.2,812.3 1715.2,809.7 C1720.1,807.0 1723.4,804.7 1725.1,803.7 L1725.1,843.4 C1722.1,845.4 1713.5,850.4 1707.2,855.3 C1700.9,860.3 1694.0,866.9 1687.4,873.2 C1680.8,879.5 1674.1,887.4 1667.5,893.0 C1660.9,898.7 1655.0,902.3 1647.7,906.9 C1640.4,911.6 1631.8,916.5 1623.9,920.8 C1615.9,925.1 1608.0,928.7 1600.1,932.7 C1592.1,936.7 1583.5,941.0 1576.2,944.6 C1569.0,948.3 1563.0,951.6 1556.4,954.5 C1549.8,957.5 1542.5,959.2 1536.6,962.5 C1530.6,965.8 1526.0,970.8 1520.7,974.4 C1515.4,978.0 1510.1,980.7 1504.8,984.3 C1499.5,987.9 1494.2,992.2 1488.9,996.2 C1483.6,1000.2 1478.4,1004.5 1473.1,1008.1 C1467.8,1011.8 1462.5,1014.7 1457.2,1018.0 C1451.9,1021.4 1446.6,1024.3 1441.3,1028.0 C1436.0,1031.6 1430.7,1036.9 1425.4,1039.9 C1420.1,1042.8 1415.2,1044.2 1409.6,1045.8 C1403.9,1047.5 1397.0,1050.1 1391.7,1049.8 C1386.4,1049.5 1382.8,1046.5 1377.8,1043.8 C1372.8,1041.2 1367.2,1035.9 1361.9,1033.9 C1356.6,1031.9 1351.4,1033.6 1346.1,1031.9 C1340.8,1030.3 1335.5,1027.3 1330.2,1024.0 C1324.9,1020.7 1319.6,1016.7 1314.3,1012.1 C1309.0,1007.5 1303.7,1002.2 1298.4,996.2 C1293.1,990.3 1287.9,983.6 1282.6,976.4 C1277.3,969.1 1272.0,961.2 1266.7,952.6 C1261.4,944.0 1256.1,934.0 1250.8,924.8 C1245.5,915.5 1240.2,904.9 1234.9,897.0 C1229.6,889.1 1224.4,883.4 1219.1,877.2 C1213.8,870.9 1208.5,864.9 1203.2,859.3 C1197.9,853.7 1192.6,847.4 1187.3,843.4 C1182.0,839.5 1176.7,837.8 1171.4,835.5 C1166.1,833.2 1160.9,831.8 1155.6,829.5 C1150.3,827.2 1144.3,822.3 1139.7,821.6 C1135.1,820.9 1131.7,823.6 1127.8,825.6 C1123.8,827.5 1117.9,832.2 1115.9,833.5Z" fill="#9db5e1" fill-opacity="0.8"/>
<path d="M1116.1,802.7 L1128.1,799.9 L1140.1,803.8 L1152.0,805.1 L1164.0,810.3 L1176.0,828.7 L1188.0,849.6 L1199.9,862.8 L1211.9,872.0 L1223.9,884.1 L1235.9,898.4 L1247.8,916.7 L1259.8,938.1 L1271.8,953.7 L1283.8,966.3 L1295.8,984.7 L1307.7,1005.1 L1319.7,1013.3 L1331.7,1022.8 L1343.7,1027.7 L1355.6,1026.8 L1367.6,1031.4 L1379.6,1028.3 L1391.6,1029.6 L1403.5,1025.6 L1415.5,1012.1 L1427.5,1005.1" fill="none" stroke="#ed7d31" stroke-width="6" stroke-linejoin="round" stroke-linecap="round"/>
<path d="M1116.1,795.7L1122.5,802.7L1116.1,809.7L1109.7,802.7ZM1128.1,792.9L1134.5,799.9L1128.1,806.9L1121.7,799.9ZM1140.1,796.8L1146.5,803.8L1140.1,810.8L1133.7,803.8ZM1152.0,798.1L1158.4,805.1L1152.0,812.1L1145.6,805.1ZM1164.0,803.3L1170.4,810.3L1164.0,817.3L1157.6,810.3ZM1176.0,821.7L1182.4,828.7L1176.0,835.7L1169.6,828.7ZM1188.0,842.6L1194.4,849.6L1188.0,856.6L1181.6,849.6ZM1199.9,855.8L1206.3,862.8L1199.9,869.8L1193.5,862.8ZM1211.9,865.0L1218.3,872.0L1211.9,879.0L1205.5,872.0ZM1223.9,877.1L1230.3,884.1L1223.9,891.1L1217.5,884.1ZM1235.9,891.4L1242.3,898.4L1235.9,905.4L1229.5,898.4ZM1247.8,909.7L1254.2,916.7L1247.8,923.7L1241.4,916.7ZM1259.8,931.1L1266.2,938.1L1259.8,945.1L1253.4,938.1ZM1271.8,946.7L1278.2,953.7L1271.8,960.7L1265.4,953.7ZM1283.8,959.3L1290.2,966.3L1283.8,973.3L1277.4,966.3ZM1295.8,977.7L1302.2,984.7L1295.8,991.7L1289.4,984.7ZM1307.7,998.1L1314.1,1005.1L1307.7,1012.1L1301.3,1005.1ZM1319.7,1006.3L1326.1,1013.3L1319.7,1020.3L1313.3,1013.3ZM1331.7,1015.8L1338.1,1022.8L1331.7,1029.8L1325.3,1022.8ZM1343.7,1020.7L1350.1,1027.7L1343.7,1034.7L1337.3,1027.7ZM1355.6,1019.8L1362.0,1026.8L1355.6,1033.8L1349.2,1026.8ZM1367.6,1024.4L1374.0,1031.4L1367.6,1038.4L1361.2,1031.4ZM1379.6,1021.3L1386.0,1028.3L1379.6,1035.3L1373.2,1028.3ZM1391.6,1022.6L1398.0,1029.6L1391.6,1036.6L1385.2,1029.6ZM1403.5,1018.6L1409.9,1025.6L1403.5,1032.6L1397.1,1025.6ZM1415.5,1005.1L1421.9,1012.1L1415.5,1019.1L1409.1,1012.1ZM1427.5,998.1L1433.9,1005.1L1427.5,1012.1L1421.1,1005.1Z" fill="#ed7d31"/>
<path d="M1111.9,807.7 C1114.6,807.5 1122.5,806.5 1127.8,806.5 C1133.1,806.5 1138.4,806.6 1143.7,807.7 C1148.9,808.8 1154.2,809.9 1159.5,812.9 C1164.8,815.8 1170.1,821.1 1175.4,825.6 C1180.7,830.0 1185.3,835.2 1191.3,839.5 C1197.2,843.8 1205.2,846.4 1211.1,851.4 C1217.1,856.3 1221.7,862.9 1227.0,869.2 C1232.3,875.5 1237.6,882.1 1242.9,889.1 C1248.2,896.0 1253.5,903.0 1258.7,910.9 C1264.0,918.8 1269.3,929.4 1274.6,936.7 C1279.9,944.0 1285.2,948.9 1290.5,954.5 C1295.8,960.2 1301.1,965.5 1306.4,970.4 C1311.7,975.4 1316.3,981.1 1322.2,984.3 C1328.2,987.5 1336.8,987.8 1342.1,989.5 C1347.4,991.1 1349.4,991.8 1354.0,994.2 C1358.6,996.7 1365.2,1002.6 1369.9,1004.2 C1374.5,1005.7 1377.8,1004.4 1381.8,1003.4 C1385.7,1002.4 1389.7,1000.4 1393.7,998.2 C1397.7,996.0 1401.6,992.9 1405.6,990.3 C1409.6,987.6 1412.2,986.0 1417.5,982.3 C1422.8,978.7 1430.7,973.7 1437.3,968.4 C1444.0,963.1 1450.6,956.5 1457.2,950.6 C1463.8,944.6 1470.4,939.3 1477.0,932.7 C1483.6,926.1 1490.3,916.2 1496.9,910.9 C1503.5,905.6 1510.1,904.3 1516.7,901.0 C1523.3,897.7 1529.9,893.4 1536.6,891.0 C1543.2,888.7 1549.8,888.7 1556.4,887.1 C1563.0,885.4 1569.0,883.1 1576.2,881.1 C1583.5,879.1 1592.8,877.5 1600.1,875.2 C1607.3,872.9 1613.3,869.9 1619.9,867.2 C1626.5,864.6 1633.1,862.6 1639.7,859.3 C1646.4,856.0 1653.0,851.7 1659.6,847.4 C1666.2,843.1 1672.8,837.8 1679.4,833.5 C1686.0,829.2 1691.7,825.6 1699.3,821.6 C1706.9,817.6 1720.8,811.7 1725.1,809.7" fill="none" stroke="#70ad47" stroke-width="6" stroke-linejoin="round" stroke-linecap="round"/>
<path d="M1115.9,813.7 C1119.8,813.5 1133.1,812.2 1139.7,812.9 C1146.3,813.5 1149.6,814.8 1155.6,817.6 C1161.5,820.4 1168.8,825.2 1175.4,829.5 C1182.0,833.8 1188.6,838.5 1195.2,843.4 C1201.9,848.4 1208.5,853.0 1215.1,859.3 C1221.7,865.6 1228.3,873.2 1234.9,881.1 C1241.6,889.1 1248.8,898.7 1254.8,906.9 C1260.7,915.2 1265.4,923.5 1270.7,930.7 C1275.9,938.0 1281.2,944.0 1286.5,950.6 C1291.8,957.2 1296.5,963.8 1302.4,970.4 C1308.4,977.0 1315.6,985.0 1322.2,990.3 C1328.9,995.6 1335.5,998.9 1342.1,1002.2 C1348.7,1005.5 1356.0,1008.3 1361.9,1010.1 C1367.9,1011.9 1372.5,1012.7 1377.8,1012.9 C1383.1,1013.1 1388.4,1012.4 1393.7,1011.3 C1399.0,1010.2 1404.3,1008.0 1409.6,1006.1 C1414.9,1004.3 1420.1,1002.8 1425.4,1000.2 C1430.7,997.5 1436.0,994.2 1441.3,990.3 C1446.6,986.3 1451.2,981.3 1457.2,976.4 C1463.1,971.4 1470.4,965.8 1477.0,960.5 C1483.6,955.2 1489.6,950.2 1496.9,944.6 C1504.1,939.0 1512.7,931.7 1520.7,926.8 C1528.6,921.8 1536.6,918.5 1544.5,914.9 C1552.4,911.2 1560.4,908.2 1568.3,904.9 C1576.2,901.6 1584.8,898.0 1592.1,895.0 C1599.4,892.0 1605.4,890.1 1612.0,887.1 C1618.6,884.1 1625.2,880.5 1631.8,877.2 C1638.4,873.8 1645.0,870.9 1651.7,867.2 C1658.3,863.6 1665.5,859.3 1671.5,855.3 C1677.4,851.4 1681.4,847.7 1687.4,843.4 C1693.3,839.1 1700.9,833.8 1707.2,829.5 C1713.5,825.2 1722.1,819.6 1725.1,817.6" fill="none" stroke="#2f5597" stroke-width="6" stroke-linejoin="round" stroke-linecap="round"/>
<text x="1403.3" y="768.5" text-anchor="middle" font-size="28">Natural Gas East Coast Storage</text>
<text x="1086.8" y="788.8" text-anchor="end" font-size="21.7">1,000</text>
<text x="1086.8" y="840.9" text-anchor="end" font-size="21.7">850</text>
<text x="1086.8" y="893.0" text-anchor="end" font-size="21.7">700</text>
<text x="1086.8" y="945.1" text-anchor="end" font-size="21.7">550</text>
<text x="1086.8" y="997.2" text-anchor="end" font-size="21.7">400</text>
<text x="1086.8" y="1049.3" text-anchor="end" font-size="21.7">250</text>
<text x="1086.8" y="1101.4" text-anchor="end" font-size="21.7">100</text>
<text transform="translate(1016.4,914) rotate(-90)" text-anchor="middle" font-size="23">Billion Cubic Feet</text>
<text x="1116.1" y="1133.1" text-anchor="middle" font-size="21">Nov</text>
<text x="1222.9" y="1133.1" text-anchor="middle" font-size="21">Jan</text>
<text x="1331.2" y="1133.1" text-anchor="middle" font-size="21">Mar</text>
<text x="1438.4" y="1133.1" text-anchor="middle" font-size="21">May</text>
<text x="1545.2" y="1133.1" text-anchor="middle" font-size="21">Jul</text>
<text x="1688.6" y="1133.1" text-anchor="middle" font-size="21">Oct</text>
<rect x="1538.0" y="986.9" width="203.5" height="105.8" fill="#fff" stroke="#000" stroke-width="2"/>
<rect x="1557.3" y="994.8" width="52.9" height="11" fill="#9db5e1" fill-opacity="0.8"/>
<text x="1617.4" y="1006.0" font-size="16.5">5-Year Range</text>
<line x1="1559.3" y1="1026.8" x2="1610.2" y2="1026.8" stroke="#ed7d31" stroke-width="6" stroke-linecap="round"/>
<path d="M1584.8,1019.8L1591.2,1026.8L1584.8,1033.8L1578.3,1026.8Z" fill="#ed7d31"/>
<text x="1617.4" y="1032.5" font-size="16.5">2024-2025</text>
<line x1="1559.3" y1="1053.7" x2="1610.2" y2="1053.7" stroke="#70ad47" stroke-width="6" stroke-linecap="round"/>
<text x="1617.4" y="1059.4" font-size="16.5">2023-2024</text>
<line x1="1559.3" y1="1080.2" x2="1610.2" y2="1080.2" stroke="#2f5597" stroke-width="6" stroke-linecap="round"/>
<text x="1617.4" y="1085.9" font-size="16.5">5-year Avg.</text></g>
<g><text x="472.0" y="1386.5" font-family="Liberation Serif" font-weight="400" font-size="81" fill="#7d8089" stroke="#7d8089" stroke-width="1.2" textLength="299.9" lengthAdjust="spacingAndGlyphs">StoneX</text>
<text x="773.9" y="1340.0" font-weight="400" font-size="11" fill="#7d8089" opacity="0.7">®</text>
<line x1="306" y1="1203.1" x2="953.7" y2="1203.1" stroke="#d6d6d6" stroke-width="1.7"/>
<line x1="306" y1="1265.6" x2="953.7" y2="1265.6" stroke="#d6d6d6" stroke-width="1.7"/>
<line x1="306" y1="1328.2" x2="953.7" y2="1328.2" stroke="#d6d6d6" stroke-width="1.7"/>
<line x1="306" y1="1390.7" x2="953.7" y2="1390.7" stroke="#d6d6d6" stroke-width="1.7"/>
<line x1="306" y1="1453.3" x2="953.7" y2="1453.3" stroke="#d6d6d6" stroke-width="1.7"/>
<line x1="306" y1="1515.8" x2="953.7" y2="1515.8" stroke="#d6d6d6" stroke-width="1.7"/>
<path d="M309.9,1229.7 C312.2,1229.4 318.9,1228.2 323.8,1227.7 C328.8,1227.2 334.4,1226.2 339.7,1226.5 C345.0,1226.8 350.3,1227.2 355.6,1229.7 C360.9,1232.2 366.1,1237.3 371.4,1241.6 C376.7,1245.9 382.0,1250.9 387.3,1255.5 C392.6,1260.1 397.9,1264.1 403.2,1269.4 C408.5,1274.7 413.8,1280.6 419.1,1287.2 C424.4,1293.8 429.6,1302.1 434.9,1309.1 C440.2,1316.0 445.5,1322.3 450.8,1328.9 C456.1,1335.5 461.4,1342.1 466.7,1348.7 C472.0,1355.4 477.3,1362.6 482.6,1368.6 C487.9,1374.5 493.1,1380.5 498.4,1384.5 C503.7,1388.4 509.0,1389.8 514.3,1392.4 C519.6,1395.1 524.9,1398.0 530.2,1400.3 C535.5,1402.7 540.8,1404.3 546.1,1406.3 C551.4,1408.3 556.6,1410.3 561.9,1412.2 C567.2,1414.2 572.5,1417.9 577.8,1418.2 C583.1,1418.5 588.4,1416.2 593.7,1414.2 C599.0,1412.2 604.3,1408.6 609.6,1406.3 C614.9,1404.0 620.1,1403.0 625.4,1400.3 C630.7,1397.7 636.0,1393.7 641.3,1390.4 C646.6,1387.1 651.2,1384.1 657.2,1380.5 C663.1,1376.9 670.4,1372.6 677.0,1368.6 C683.6,1364.6 690.3,1360.7 696.9,1356.7 C703.5,1352.7 710.1,1348.4 716.7,1344.8 C723.3,1341.1 729.9,1337.8 736.6,1334.9 C743.2,1331.9 749.8,1329.6 756.4,1326.9 C763.0,1324.3 769.6,1321.6 776.2,1319.0 C782.9,1316.3 789.5,1313.7 796.1,1311.0 C802.7,1308.4 809.3,1305.8 815.9,1303.1 C822.5,1300.5 829.2,1298.5 835.8,1295.2 C842.4,1291.9 849.0,1287.2 855.6,1283.3 C862.2,1279.3 868.9,1275.3 875.5,1271.4 C882.1,1267.4 888.7,1263.1 895.3,1259.5 C901.9,1255.8 908.5,1253.2 915.2,1249.5 C921.8,1245.9 929.4,1240.6 935.0,1237.6 C940.6,1234.6 946.6,1232.7 948.9,1231.7 L948.9,1265.4 C947.2,1266.1 942.6,1266.7 939.0,1269.4 C935.3,1272.0 932.4,1276.0 927.1,1281.3 C921.8,1286.6 913.8,1294.5 907.2,1301.1 C900.6,1307.7 894.0,1314.7 887.4,1321.0 C880.8,1327.3 874.1,1333.5 867.5,1338.8 C860.9,1344.1 854.3,1348.4 847.7,1352.7 C841.1,1357.0 834.5,1361.0 827.8,1364.6 C821.2,1368.3 814.6,1371.2 808.0,1374.5 C801.4,1377.9 794.8,1381.2 788.2,1384.5 C781.5,1387.8 774.9,1390.8 768.3,1394.4 C761.7,1398.0 755.1,1402.3 748.5,1406.3 C741.9,1410.3 734.6,1414.6 728.6,1418.2 C722.7,1421.8 718.0,1424.8 712.7,1428.1 C707.5,1431.4 702.2,1434.4 696.9,1438.0 C691.6,1441.7 686.3,1446.3 681.0,1450.0 C675.7,1453.6 670.4,1456.9 665.1,1459.9 C659.8,1462.8 654.5,1465.2 649.2,1467.8 C644.0,1470.5 638.7,1473.4 633.4,1475.7 C628.1,1478.1 622.8,1480.0 617.5,1481.7 C612.2,1483.4 606.9,1485.3 601.6,1485.7 C596.3,1486.0 591.0,1485.0 585.7,1483.7 C580.5,1482.4 575.2,1479.4 569.9,1477.7 C564.6,1476.1 559.3,1475.4 554.0,1473.8 C548.7,1472.1 544.1,1470.8 538.1,1467.8 C532.2,1464.8 524.2,1461.2 518.3,1455.9 C512.3,1450.6 507.7,1443.3 502.4,1436.1 C497.1,1428.8 491.8,1420.8 486.5,1412.2 C481.2,1403.6 475.9,1393.7 470.7,1384.5 C465.4,1375.2 460.1,1365.3 454.8,1356.7 C449.5,1348.1 443.5,1339.5 438.9,1332.9 C434.3,1326.3 431.6,1323.6 427.0,1317.0 C422.4,1310.4 416.4,1299.8 411.1,1293.2 C405.8,1286.6 400.5,1281.9 395.2,1277.3 C390.0,1272.7 385.3,1269.4 379.4,1265.4 C373.4,1261.4 366.1,1256.5 359.5,1253.5 C352.9,1250.5 345.6,1248.9 339.7,1247.5 C333.7,1246.2 328.4,1244.9 323.8,1245.6 C319.2,1246.2 313.9,1250.5 311.9,1251.5Z" fill="#9db5e1" fill-opacity="0.8"/>
<path d="M311.5,1224.0 L324.1,1221.7 L336.6,1221.7 L349.2,1223.6 L361.7,1228.2 L374.3,1240.3 L386.9,1258.8 L399.4,1276.2 L412.0,1290.1 L424.5,1304.5 L437.1,1322.2 L449.7,1346.5 L462.2,1371.6 L474.8,1386.7 L487.3,1405.7 L499.9,1426.6 L512.5,1445.8 L525.0,1456.2 L537.6,1463.8 L550.2,1463.6 L562.7,1463.4 L575.3,1462.9 L587.8,1461.9 L600.4,1459.6 L613.0,1454.2 L625.5,1446.6 L638.1,1437.1" fill="none" stroke="#ed7d31" stroke-width="6" stroke-linejoin="round" stroke-linecap="round"/>
<path d="M311.5,1217.0L317.9,1224.0L311.5,1231.0L305.1,1224.0ZM324.1,1214.7L330.5,1221.7L324.1,1228.7L317.7,1221.7ZM336.6,1214.7L343.0,1221.7L336.6,1228.7L330.2,1221.7ZM349.2,1216.6L355.6,1223.6L349.2,1230.6L342.8,1223.6ZM361.7,1221.2L368.1,1228.2L361.7,1235.2L355.3,1228.2ZM374.3,1233.3L380.7,1240.3L374.3,1247.3L367.9,1240.3ZM386.9,1251.8L393.3,1258.8L386.9,1265.8L380.5,1258.8ZM399.4,1269.2L405.8,1276.2L399.4,1283.2L393.0,1276.2ZM412.0,1283.1L418.4,1290.1L412.0,1297.1L405.6,1290.1ZM424.5,1297.5L430.9,1304.5L424.5,1311.5L418.1,1304.5ZM437.1,1315.2L443.5,1322.2L437.1,1329.2L430.7,1322.2ZM449.7,1339.5L456.1,1346.5L449.7,1353.5L443.3,1346.5ZM462.2,1364.6L468.6,1371.6L462.2,1378.6L455.8,1371.6ZM474.8,1379.7L481.2,1386.7L474.8,1393.7L468.4,1386.7ZM487.3,1398.7L493.7,1405.7L487.3,1412.7L480.9,1405.7ZM499.9,1419.6L506.3,1426.6L499.9,1433.6L493.5,1426.6ZM512.5,1438.8L518.9,1445.8L512.5,1452.8L506.1,1445.8ZM525.0,1449.2L531.4,1456.2L525.0,1463.2L518.6,1456.2ZM537.6,1456.8L544.0,1463.8L537.6,1470.8L531.2,1463.8ZM550.2,1456.6L556.6,1463.6L550.2,1470.6L543.8,1463.6ZM562.7,1456.4L569.1,1463.4L562.7,1470.4L556.3,1463.4ZM575.3,1455.9L581.7,1462.9L575.3,1469.9L568.9,1462.9ZM587.8,1454.9L594.2,1461.9L587.8,1468.9L581.4,1461.9ZM600.4,1452.6L606.8,1459.6L600.4,1466.6L594.0,1459.6ZM613.0,1447.2L619.4,1454.2L613.0,1461.2L606.6,1454.2ZM625.5,1439.6L631.9,1446.6L625.5,1453.6L619.1,1446.6ZM638.1,1430.1L644.5,1437.1L638.1,1444.1L631.7,1437.1Z" fill="#ed7d31"/>
<path d="M309.9,1231.7 C312.2,1231.2 318.2,1229.2 323.8,1228.9 C329.4,1228.6 337.7,1228.8 343.7,1229.7 C349.6,1230.6 353.6,1231.1 359.5,1234.4 C365.5,1237.8 372.8,1244.0 379.4,1249.5 C386.0,1255.0 393.3,1262.8 399.2,1267.4 C405.2,1272.0 410.5,1273.7 415.1,1277.3 C419.7,1280.9 423.0,1284.3 427.0,1289.2 C431.0,1294.2 434.9,1301.1 438.9,1307.1 C442.9,1313.0 446.2,1318.0 450.8,1324.9 C455.4,1331.9 461.4,1341.5 466.7,1348.7 C472.0,1356.0 477.3,1362.6 482.6,1368.6 C487.9,1374.5 493.1,1380.2 498.4,1384.5 C503.7,1388.8 509.0,1391.7 514.3,1394.4 C519.6,1397.0 524.9,1398.7 530.2,1400.3 C535.5,1402.0 540.8,1402.3 546.1,1404.3 C551.4,1406.3 556.6,1409.9 561.9,1412.2 C567.2,1414.6 573.2,1417.2 577.8,1418.2 C582.4,1419.2 585.1,1419.5 589.7,1418.2 C594.3,1416.9 600.3,1412.6 605.6,1410.3 C610.9,1407.9 615.5,1407.3 621.5,1404.3 C627.4,1401.3 634.7,1396.4 641.3,1392.4 C647.9,1388.4 654.5,1384.5 661.2,1380.5 C667.8,1376.5 674.4,1372.9 681.0,1368.6 C687.6,1364.3 694.2,1359.0 700.8,1354.7 C707.5,1350.4 714.1,1346.8 720.7,1342.8 C727.3,1338.8 733.9,1334.2 740.5,1330.9 C747.1,1327.6 753.8,1325.3 760.4,1323.0 C767.0,1320.6 773.6,1319.0 780.2,1317.0 C786.8,1315.0 793.4,1313.4 800.1,1311.0 C806.7,1308.7 814.0,1305.8 819.9,1303.1 C825.9,1300.5 830.5,1297.5 835.8,1295.2 C841.1,1292.9 846.4,1291.9 851.7,1289.2 C856.9,1286.6 861.6,1282.6 867.5,1279.3 C873.5,1276.0 880.8,1273.0 887.4,1269.4 C894.0,1265.7 900.6,1261.4 907.2,1257.5 C913.8,1253.5 920.1,1249.7 927.1,1245.6 C934.0,1241.5 945.2,1235.0 948.9,1232.9" fill="none" stroke="#70ad47" stroke-width="6" stroke-linejoin="round" stroke-linecap="round"/>
<path d="M309.9,1237.6 C312.2,1237.1 318.9,1235.0 323.8,1234.4 C328.8,1233.9 333.7,1233.3 339.7,1234.4 C345.6,1235.6 352.9,1238.1 359.5,1241.6 C366.1,1245.1 372.8,1250.2 379.4,1255.5 C386.0,1260.8 392.6,1267.1 399.2,1273.3 C405.8,1279.6 412.4,1285.9 419.1,1293.2 C425.7,1300.5 432.3,1308.4 438.9,1317.0 C445.5,1325.6 452.1,1336.2 458.7,1344.8 C465.4,1353.4 472.0,1360.7 478.6,1368.6 C485.2,1376.5 491.8,1385.1 498.4,1392.4 C505.1,1399.7 511.7,1406.3 518.3,1412.2 C524.9,1418.2 531.5,1423.5 538.1,1428.1 C544.7,1432.8 551.4,1437.1 558.0,1440.0 C564.6,1443.0 572.5,1445.0 577.8,1446.0 C583.1,1447.0 585.1,1446.6 589.7,1446.0 C594.3,1445.3 599.6,1443.7 605.6,1442.0 C611.5,1440.4 618.8,1438.7 625.4,1436.1 C632.1,1433.4 638.7,1429.4 645.3,1426.1 C651.9,1422.8 658.5,1420.2 665.1,1416.2 C671.7,1412.2 678.4,1407.0 685.0,1402.3 C691.6,1397.7 698.2,1393.1 704.8,1388.4 C711.4,1383.8 718.0,1378.8 724.7,1374.5 C731.3,1370.2 737.9,1366.3 744.5,1362.6 C751.1,1359.0 757.7,1356.0 764.3,1352.7 C771.0,1349.4 777.6,1346.1 784.2,1342.8 C790.8,1339.5 797.4,1336.5 804.0,1332.9 C810.6,1329.2 817.3,1324.9 823.9,1321.0 C830.5,1317.0 837.1,1313.7 843.7,1309.1 C850.3,1304.4 856.9,1298.1 863.6,1293.2 C870.2,1288.2 876.8,1284.3 883.4,1279.3 C890.0,1274.3 896.6,1268.4 903.2,1263.4 C909.9,1258.5 915.5,1253.2 923.1,1249.5 C930.7,1245.9 944.6,1242.9 948.9,1241.6" fill="none" stroke="#2f5597" stroke-width="6" stroke-linejoin="round" stroke-linecap="round"/>
<text x="590.8" y="1189.6" text-anchor="middle" font-size="28">Natural Gas Midwest Storage</text>
<text x="282.7" y="1209.9" text-anchor="end" font-size="21.7">1,200</text>
<text x="282.7" y="1272.4" text-anchor="end" font-size="21.7">1,000</text>
<text x="282.7" y="1335.0" text-anchor="end" font-size="21.7">800</text>
<text x="282.7" y="1397.5" text-anchor="end" font-size="21.7">600</text>
<text x="282.7" y="1460.1" text-anchor="end" font-size="21.7">400</text>
<text x="282.7" y="1522.6" text-anchor="end" font-size="21.7">200</text>
<text transform="translate(204.5,1334) rotate(-90)" text-anchor="middle" font-size="23">Billion Cubic Feet</text>
<text x="311.5" y="1555.2" text-anchor="middle" font-size="21">Nov</text>
<text x="423.6" y="1555.2" text-anchor="middle" font-size="21">Jan</text>
<text x="536.7" y="1555.2" text-anchor="middle" font-size="21">Mar</text>
<text x="649.2" y="1555.2" text-anchor="middle" font-size="21">May</text>
<text x="761.3" y="1555.2" text-anchor="middle" font-size="21">Jul</text>
<text x="911.9" y="1555.2" text-anchor="middle" font-size="21">Oct</text>
<rect x="747.9" y="1425.4" width="204.8" height="87.0" fill="#fff" stroke="#000" stroke-width="2"/>
<rect x="770.0" y="1430.9" width="52.9" height="11" fill="#9db5e1" fill-opacity="0.8"/>
<text x="828.7" y="1442.1" font-size="16.5">5-Year Range</text>
<line x1="772.0" y1="1458.0" x2="822.9" y2="1458.0" stroke="#ed7d31" stroke-width="6" stroke-linecap="round"/>
<path d="M797.5,1451.0L803.9,1458.0L797.5,1465.0L791.1,1458.0Z" fill="#ed7d31"/>
<text x="828.7" y="1463.7" font-size="16.5">2024-2025</text>
<line x1="772.0" y1="1480.7" x2="822.9" y2="1480.7" stroke="#70ad47" stroke-width="6" stroke-linecap="round"/>
<text x="828.7" y="1486.4" font-size="16.5">2023-2024</text>
<line x1="772.0" y1="1502.3" x2="822.9" y2="1502.3" stroke="#2f5597" stroke-width="6" stroke-linecap="round"/>
<text x="828.7" y="1508.0" font-size="16.5">5-year Avg.</text></g>
<g><text x="1270.4" y="1392.2" font-family="Liberation Serif" font-weight="400" font-size="81" fill="#7d8089" stroke="#7d8089" stroke-width="1.2" textLength="287.9" lengthAdjust="spacingAndGlyphs">StoneX</text>
<text x="1560.3" y="1345.7" font-weight="400" font-size="11" fill="#7d8089" opacity="0.7">®</text>
<line x1="1109.9" y1="1204.5" x2="1730.4" y2="1204.5" stroke="#d6d6d6" stroke-width="1.7"/>
<line x1="1109.9" y1="1267.1" x2="1730.4" y2="1267.1" stroke="#d6d6d6" stroke-width="1.7"/>
<line x1="1109.9" y1="1329.8" x2="1730.4" y2="1329.8" stroke="#d6d6d6" stroke-width="1.7"/>
<line x1="1109.9" y1="1392.4" x2="1730.4" y2="1392.4" stroke="#d6d6d6" stroke-width="1.7"/>
<line x1="1109.9" y1="1455.1" x2="1730.4" y2="1455.1" stroke="#d6d6d6" stroke-width="1.7"/>
<line x1="1109.9" y1="1517.7" x2="1730.4" y2="1517.7" stroke="#d6d6d6" stroke-width="1.7"/>
<path d="M1113.9,1245.6 C1116.2,1244.9 1123.5,1242.6 1127.8,1241.6 C1132.1,1240.6 1135.7,1240.6 1139.7,1239.6 C1143.7,1238.6 1147.6,1237.0 1151.6,1235.6 C1155.6,1234.3 1159.5,1230.7 1163.5,1231.7 C1167.5,1232.7 1171.4,1238.0 1175.4,1241.6 C1179.4,1245.2 1182.7,1250.2 1187.3,1253.5 C1191.9,1256.8 1197.9,1259.1 1203.2,1261.4 C1208.5,1263.8 1213.8,1263.4 1219.1,1267.4 C1224.4,1271.4 1230.3,1279.0 1234.9,1285.2 C1239.6,1291.5 1242.9,1299.1 1246.8,1305.1 C1250.8,1311.0 1254.8,1316.3 1258.7,1321.0 C1262.7,1325.6 1266.7,1328.6 1270.7,1332.9 C1274.6,1337.2 1278.6,1343.8 1282.6,1346.8 C1286.5,1349.7 1290.5,1350.4 1294.5,1350.7 C1298.4,1351.1 1301.7,1349.7 1306.4,1348.7 C1311.0,1347.8 1317.0,1346.8 1322.2,1344.8 C1327.5,1342.8 1332.8,1339.2 1338.1,1336.8 C1343.4,1334.5 1348.7,1332.5 1354.0,1330.9 C1359.3,1329.2 1364.6,1328.6 1369.9,1326.9 C1375.2,1325.3 1380.5,1323.6 1385.7,1321.0 C1391.0,1318.3 1396.3,1314.0 1401.6,1311.0 C1406.9,1308.1 1412.2,1305.4 1417.5,1303.1 C1422.8,1300.8 1428.1,1299.1 1433.4,1297.2 C1438.7,1295.2 1444.0,1293.5 1449.2,1291.2 C1454.5,1288.9 1459.8,1285.9 1465.1,1283.3 C1470.4,1280.6 1475.7,1277.6 1481.0,1275.3 C1486.3,1273.0 1491.6,1271.4 1496.9,1269.4 C1502.2,1267.4 1507.5,1264.7 1512.7,1263.4 C1518.0,1262.1 1523.3,1261.4 1528.6,1261.4 C1533.9,1261.4 1539.2,1262.8 1544.5,1263.4 C1549.8,1264.1 1555.1,1265.1 1560.4,1265.4 C1565.7,1265.7 1571.0,1265.7 1576.2,1265.4 C1581.5,1265.1 1586.8,1263.8 1592.1,1263.4 C1597.4,1263.1 1602.7,1263.8 1608.0,1263.4 C1613.3,1263.1 1618.6,1263.1 1623.9,1261.4 C1629.2,1259.8 1634.5,1256.1 1639.7,1253.5 C1645.0,1250.9 1650.3,1248.2 1655.6,1245.6 C1660.9,1242.9 1666.2,1240.1 1671.5,1237.6 C1676.8,1235.1 1682.1,1232.0 1687.4,1230.5 C1692.7,1229.0 1697.2,1229.0 1703.2,1228.5 C1709.3,1228.0 1720.4,1227.8 1723.9,1227.7 L1723.9,1294.0 C1722.4,1294.8 1718.6,1296.6 1715.2,1299.1 C1711.7,1301.7 1707.9,1304.8 1703.2,1309.1 C1698.6,1313.4 1692.7,1319.3 1687.4,1324.9 C1682.1,1330.6 1676.8,1337.5 1671.5,1342.8 C1666.2,1348.1 1660.9,1353.0 1655.6,1356.7 C1650.3,1360.3 1645.0,1363.0 1639.7,1364.6 C1634.5,1366.3 1629.2,1365.6 1623.9,1366.6 C1618.6,1367.6 1613.3,1369.9 1608.0,1370.6 C1602.7,1371.2 1597.4,1370.2 1592.1,1370.6 C1586.8,1370.9 1581.5,1373.6 1576.2,1372.6 C1571.0,1371.6 1565.7,1366.6 1560.4,1364.6 C1555.1,1362.6 1549.8,1360.7 1544.5,1360.7 C1539.2,1360.7 1533.9,1363.0 1528.6,1364.6 C1523.3,1366.3 1518.0,1368.6 1512.7,1370.6 C1507.5,1372.6 1502.2,1374.2 1496.9,1376.5 C1491.6,1378.8 1486.3,1381.8 1481.0,1384.5 C1475.7,1387.1 1470.4,1389.8 1465.1,1392.4 C1459.8,1395.1 1454.5,1397.4 1449.2,1400.3 C1444.0,1403.3 1438.7,1406.3 1433.4,1410.3 C1428.1,1414.2 1422.8,1419.2 1417.5,1424.2 C1412.2,1429.1 1406.9,1435.1 1401.6,1440.0 C1396.3,1445.0 1391.0,1450.3 1385.7,1453.9 C1380.5,1457.6 1375.2,1459.5 1369.9,1461.9 C1364.6,1464.2 1358.6,1468.1 1354.0,1467.8 C1349.4,1467.5 1346.7,1463.2 1342.1,1459.9 C1337.5,1456.6 1331.5,1453.3 1326.2,1448.0 C1320.9,1442.7 1315.6,1435.4 1310.3,1428.1 C1305.1,1420.8 1299.8,1413.6 1294.5,1404.3 C1289.2,1395.1 1283.9,1382.5 1278.6,1372.6 C1273.3,1362.6 1268.0,1354.0 1262.7,1344.8 C1257.4,1335.5 1251.5,1323.3 1246.8,1317.0 C1242.2,1310.7 1239.6,1309.4 1234.9,1307.1 C1230.3,1304.8 1223.7,1304.4 1219.1,1303.1 C1214.4,1301.8 1211.1,1300.5 1207.2,1299.1 C1203.2,1297.8 1199.9,1298.1 1195.2,1295.2 C1190.6,1292.2 1184.7,1284.3 1179.4,1281.3 C1174.1,1278.3 1169.5,1277.8 1163.5,1277.3 C1157.5,1276.8 1149.6,1278.4 1143.7,1278.1 C1137.7,1277.8 1132.4,1274.9 1127.8,1275.3 C1123.2,1275.7 1117.9,1279.6 1115.9,1280.5Z" fill="#9db5e1" fill-opacity="0.8"/>
<path d="M1116.1,1245.3 L1128.1,1240.5 L1140.1,1239.5 L1152.0,1235.5 L1164.0,1231.6 L1176.0,1248.4 L1188.0,1256.4 L1199.9,1261.8 L1211.9,1266.3 L1223.9,1264.9 L1235.9,1288.3 L1247.8,1310.8 L1259.8,1362.3 L1271.8,1374.3 L1283.8,1382.6 L1295.8,1399.6 L1307.7,1429.3 L1319.7,1438.0 L1331.7,1436.9 L1343.7,1426.6 L1355.6,1416.6 L1367.6,1404.9 L1379.6,1395.5 L1391.6,1388.3 L1403.5,1374.9 L1415.5,1365.1 L1427.5,1357.0" fill="none" stroke="#ed7d31" stroke-width="6" stroke-linejoin="round" stroke-linecap="round"/>
<path d="M1116.1,1238.3L1122.5,1245.3L1116.1,1252.3L1109.7,1245.3ZM1128.1,1233.5L1134.5,1240.5L1128.1,1247.5L1121.7,1240.5ZM1140.1,1232.5L1146.5,1239.5L1140.1,1246.5L1133.7,1239.5ZM1152.0,1228.5L1158.4,1235.5L1152.0,1242.5L1145.6,1235.5ZM1164.0,1224.6L1170.4,1231.6L1164.0,1238.6L1157.6,1231.6ZM1176.0,1241.4L1182.4,1248.4L1176.0,1255.4L1169.6,1248.4ZM1188.0,1249.4L1194.4,1256.4L1188.0,1263.4L1181.6,1256.4ZM1199.9,1254.8L1206.3,1261.8L1199.9,1268.8L1193.5,1261.8ZM1211.9,1259.3L1218.3,1266.3L1211.9,1273.3L1205.5,1266.3ZM1223.9,1257.9L1230.3,1264.9L1223.9,1271.9L1217.5,1264.9ZM1235.9,1281.3L1242.3,1288.3L1235.9,1295.3L1229.5,1288.3ZM1247.8,1303.8L1254.2,1310.8L1247.8,1317.8L1241.4,1310.8ZM1259.8,1355.3L1266.2,1362.3L1259.8,1369.3L1253.4,1362.3ZM1271.8,1367.3L1278.2,1374.3L1271.8,1381.3L1265.4,1374.3ZM1283.8,1375.6L1290.2,1382.6L1283.8,1389.6L1277.4,1382.6ZM1295.8,1392.6L1302.2,1399.6L1295.8,1406.6L1289.4,1399.6ZM1307.7,1422.3L1314.1,1429.3L1307.7,1436.3L1301.3,1429.3ZM1319.7,1431.0L1326.1,1438.0L1319.7,1445.0L1313.3,1438.0ZM1331.7,1429.9L1338.1,1436.9L1331.7,1443.9L1325.3,1436.9ZM1343.7,1419.6L1350.1,1426.6L1343.7,1433.6L1337.3,1426.6ZM1355.6,1409.6L1362.0,1416.6L1355.6,1423.6L1349.2,1416.6ZM1367.6,1397.9L1374.0,1404.9L1367.6,1411.9L1361.2,1404.9ZM1379.6,1388.5L1386.0,1395.5L1379.6,1402.5L1373.2,1395.5ZM1391.6,1381.3L1398.0,1388.3L1391.6,1395.3L1385.2,1388.3ZM1403.5,1367.9L1409.9,1374.9L1403.5,1381.9L1397.1,1374.9ZM1415.5,1358.1L1421.9,1365.1L1415.5,1372.1L1409.1,1365.1ZM1427.5,1350.0L1433.9,1357.0L1427.5,1364.0L1421.1,1357.0Z" fill="#ed7d31"/>
<path d="M1115.1,1261.4 C1117.2,1260.4 1123.7,1256.7 1127.8,1255.5 C1131.9,1254.3 1135.7,1255.3 1139.7,1254.3 C1143.7,1253.3 1147.6,1249.3 1151.6,1249.5 C1155.6,1249.7 1158.9,1253.8 1163.5,1255.5 C1168.1,1257.1 1174.1,1257.8 1179.4,1259.5 C1184.7,1261.1 1190.6,1263.8 1195.2,1265.4 C1199.9,1267.1 1203.8,1268.8 1207.2,1269.4 C1210.5,1269.9 1211.8,1266.6 1215.1,1268.6 C1218.4,1270.6 1223.4,1277.0 1227.0,1281.3 C1230.6,1285.5 1233.6,1288.0 1236.9,1294.0 C1240.2,1299.9 1243.5,1307.5 1246.8,1317.0 C1250.2,1326.5 1253.5,1344.1 1256.8,1350.7 C1260.1,1357.3 1263.0,1356.7 1266.7,1356.7 C1270.3,1356.7 1274.0,1352.2 1278.6,1350.7 C1283.2,1349.3 1289.2,1348.2 1294.5,1348.0 C1299.8,1347.8 1305.1,1350.7 1310.3,1349.5 C1315.6,1348.4 1320.9,1343.7 1326.2,1340.8 C1331.5,1337.9 1336.8,1333.4 1342.1,1332.1 C1347.4,1330.8 1352.7,1333.7 1358.0,1332.9 C1363.3,1332.0 1368.6,1328.9 1373.8,1326.9 C1379.1,1324.9 1385.1,1323.3 1389.7,1321.0 C1394.3,1318.7 1397.0,1315.3 1401.6,1313.0 C1406.3,1310.7 1412.2,1309.1 1417.5,1307.1 C1422.8,1305.1 1428.1,1303.1 1433.4,1301.1 C1438.7,1299.1 1444.0,1297.2 1449.2,1295.2 C1454.5,1293.2 1459.8,1291.2 1465.1,1289.2 C1470.4,1287.2 1475.7,1285.1 1481.0,1283.3 C1486.3,1281.4 1491.6,1279.6 1496.9,1278.1 C1502.2,1276.6 1508.1,1274.5 1512.7,1274.1 C1517.4,1273.7 1520.7,1275.9 1524.7,1275.7 C1528.6,1275.6 1531.9,1273.2 1536.6,1273.3 C1541.2,1273.5 1547.1,1275.3 1552.4,1276.5 C1557.7,1277.7 1563.7,1279.4 1568.3,1280.5 C1572.9,1281.6 1576.2,1281.5 1580.2,1283.3 C1584.2,1285.1 1587.5,1289.7 1592.1,1291.2 C1596.8,1292.7 1602.7,1291.7 1608.0,1292.4 C1613.3,1293.1 1618.6,1294.0 1623.9,1295.2 C1629.2,1296.3 1634.5,1299.1 1639.7,1299.1 C1645.0,1299.1 1650.3,1295.8 1655.6,1295.2 C1660.9,1294.5 1666.2,1296.8 1671.5,1295.2 C1676.8,1293.5 1682.1,1288.9 1687.4,1285.2 C1692.7,1281.6 1697.2,1278.3 1703.2,1273.3 C1709.3,1268.4 1720.4,1258.5 1723.9,1255.5" fill="none" stroke="#70ad47" stroke-width="6" stroke-linejoin="round" stroke-linecap="round"/>
<path d="M1115.1,1266.6 C1117.2,1265.7 1123.7,1262.6 1127.8,1261.4 C1131.9,1260.2 1135.7,1259.8 1139.7,1259.5 C1143.7,1259.1 1147.0,1258.9 1151.6,1259.5 C1156.2,1260.0 1162.2,1261.3 1167.5,1262.6 C1172.8,1264.0 1178.1,1265.3 1183.3,1267.4 C1188.6,1269.5 1193.9,1272.4 1199.2,1275.3 C1204.5,1278.3 1209.8,1282.1 1215.1,1285.2 C1220.4,1288.4 1227.3,1291.7 1231.0,1294.0 C1234.6,1296.3 1234.3,1296.0 1236.9,1299.1 C1239.6,1302.3 1243.2,1307.7 1246.8,1313.0 C1250.5,1318.3 1254.8,1324.9 1258.7,1330.9 C1262.7,1336.8 1266.7,1343.1 1270.7,1348.7 C1274.6,1354.4 1278.6,1359.3 1282.6,1364.6 C1286.5,1369.9 1290.5,1375.9 1294.5,1380.5 C1298.4,1385.1 1302.4,1389.8 1306.4,1392.4 C1310.3,1395.1 1314.3,1396.0 1318.3,1396.4 C1322.2,1396.7 1326.2,1395.2 1330.2,1394.4 C1334.2,1393.6 1337.5,1392.6 1342.1,1391.6 C1346.7,1390.6 1352.7,1389.6 1358.0,1388.4 C1363.3,1387.2 1368.6,1386.8 1373.8,1384.5 C1379.1,1382.2 1384.4,1377.9 1389.7,1374.5 C1395.0,1371.2 1400.3,1367.9 1405.6,1364.6 C1410.9,1361.3 1416.2,1358.0 1421.5,1354.7 C1426.8,1351.4 1432.1,1348.1 1437.3,1344.8 C1442.6,1341.5 1447.9,1338.2 1453.2,1334.9 C1458.5,1331.6 1463.8,1327.9 1469.1,1324.9 C1474.4,1322.0 1479.7,1319.3 1485.0,1317.0 C1490.3,1314.7 1495.5,1313.0 1500.8,1311.0 C1506.1,1309.1 1511.4,1306.4 1516.7,1305.1 C1522.0,1303.8 1527.3,1303.4 1532.6,1303.1 C1537.9,1302.8 1543.2,1302.6 1548.5,1303.1 C1553.8,1303.6 1559.0,1304.8 1564.3,1305.9 C1569.6,1307.0 1574.9,1308.8 1580.2,1309.9 C1585.5,1310.9 1590.8,1311.4 1596.1,1312.2 C1601.4,1313.1 1606.7,1314.1 1612.0,1315.0 C1617.3,1315.9 1623.2,1317.5 1627.8,1317.8 C1632.5,1318.1 1635.1,1318.5 1639.7,1317.0 C1644.4,1315.5 1650.3,1311.4 1655.6,1309.1 C1660.9,1306.7 1666.2,1306.1 1671.5,1303.1 C1676.8,1300.1 1682.1,1295.2 1687.4,1291.2 C1692.7,1287.2 1697.2,1283.6 1703.2,1279.3 C1709.3,1275.0 1720.4,1267.7 1723.9,1265.4" fill="none" stroke="#2f5597" stroke-width="6" stroke-linejoin="round" stroke-linecap="round"/>
<text x="1392" y="1191.1" text-anchor="middle" font-size="28">Natural Gas South Central Storage</text>
<text x="1086.8" y="1211.3" text-anchor="end" font-size="21.7">1,400</text>
<text x="1086.8" y="1273.9" text-anchor="end" font-size="21.7">1,200</text>
<text x="1086.8" y="1336.6" text-anchor="end" font-size="21.7">1,000</text>
<text x="1086.8" y="1399.2" text-anchor="end" font-size="21.7">800</text>
<text x="1086.8" y="1461.9" text-anchor="end" font-size="21.7">600</text>
<text x="1086.8" y="1524.5" text-anchor="end" font-size="21.7">400</text>
<text transform="translate(1016.4,1337.3) rotate(-90)" text-anchor="middle" font-size="23">Billion Cubic Feet</text>
<text x="1116.1" y="1556.7" text-anchor="middle" font-size="21">Nov</text>
<text x="1222.9" y="1556.7" text-anchor="middle" font-size="21">Jan</text>
<text x="1331.2" y="1556.7" text-anchor="middle" font-size="21">Mar</text>
<text x="1438.4" y="1556.7" text-anchor="middle" font-size="21">May</text>
<text x="1545.2" y="1556.7" text-anchor="middle" font-size="21">Jul</text>
<text x="1688.6" y="1556.7" text-anchor="middle" font-size="21">Oct</text>
<rect x="1534.2" y="1401.3" width="195.2" height="114.4" fill="#fff" stroke="#000" stroke-width="2"/>
<rect x="1551.5" y="1410.7" width="52.9" height="11" fill="#9db5e1" fill-opacity="0.8"/>
<text x="1610.2" y="1421.9" font-size="16.5">5-Year Range</text>
<line x1="1553.5" y1="1444.6" x2="1604.4" y2="1444.6" stroke="#ed7d31" stroke-width="6" stroke-linecap="round"/>
<path d="M1579.0,1437.6L1585.4,1444.6L1579.0,1451.6L1572.5,1444.6Z" fill="#ed7d31"/>
<text x="1610.2" y="1450.3" font-size="16.5">2024-2025</text>
<line x1="1553.5" y1="1473.9" x2="1604.4" y2="1473.9" stroke="#70ad47" stroke-width="6" stroke-linecap="round"/>
<text x="1610.2" y="1479.6" font-size="16.5">2023-2024</text>
<line x1="1553.5" y1="1502.3" x2="1604.4" y2="1502.3" stroke="#2f5597" stroke-width="6" stroke-linecap="round"/>
<text x="1610.2" y="1508.0" font-size="16.5">5-year Avg.</text></g>
<g><text x="472.0" y="1812.2" font-family="Liberation Serif" font-weight="400" font-size="81" fill="#7d8089" stroke="#7d8089" stroke-width="1.2" textLength="300.0" lengthAdjust="spacingAndGlyphs">StoneX</text>
<text x="774.0" y="1765.7" font-weight="400" font-size="11" fill="#7d8089" opacity="0.7">®</text>
<line x1="306" y1="1625.5" x2="953.7" y2="1625.5" stroke="#d6d6d6" stroke-width="1.7"/>
<line x1="306" y1="1688.2" x2="953.7" y2="1688.2" stroke="#d6d6d6" stroke-width="1.7"/>
<line x1="306" y1="1750.9" x2="953.7" y2="1750.9" stroke="#d6d6d6" stroke-width="1.7"/>
<line x1="306" y1="1813.7" x2="953.7" y2="1813.7" stroke="#d6d6d6" stroke-width="1.7"/>
<line x1="306" y1="1876.4" x2="953.7" y2="1876.4" stroke="#d6d6d6" stroke-width="1.7"/>
<line x1="306" y1="1939.1" x2="953.7" y2="1939.1" stroke="#d6d6d6" stroke-width="1.7"/>
<path d="M309.9,1685.4 C312.2,1684.7 318.9,1681.9 323.8,1681.4 C328.8,1681.0 335.1,1681.8 339.7,1682.6 C344.3,1683.4 347.6,1684.2 351.6,1686.2 C355.6,1688.2 359.5,1692.7 363.5,1694.5 C367.5,1696.4 371.4,1695.5 375.4,1697.3 C379.4,1699.1 382.7,1702.9 387.3,1705.2 C391.9,1707.6 398.6,1709.2 403.2,1711.2 C407.8,1713.2 411.1,1714.5 415.1,1717.2 C419.1,1719.8 423.0,1723.1 427.0,1727.1 C431.0,1731.0 434.9,1736.0 438.9,1741.0 C442.9,1745.9 446.8,1752.0 450.8,1756.8 C454.8,1761.7 458.7,1767.3 462.7,1769.9 C466.7,1772.6 470.7,1771.3 474.6,1772.7 C478.6,1774.2 482.6,1776.7 486.5,1778.7 C490.5,1780.7 494.5,1782.6 498.4,1784.6 C502.4,1786.6 506.4,1789.4 510.3,1790.6 C514.3,1791.8 517.6,1791.4 522.2,1791.8 C526.9,1792.1 532.8,1792.3 538.1,1792.6 C543.4,1792.8 548.7,1792.8 554.0,1793.4 C559.3,1793.9 565.9,1795.2 569.9,1795.7 C573.8,1796.3 574.5,1796.7 577.8,1796.5 C581.1,1796.3 585.7,1795.5 589.7,1794.5 C593.7,1793.6 597.7,1792.6 601.6,1790.6 C605.6,1788.6 609.6,1785.6 613.5,1782.6 C617.5,1779.7 621.5,1776.0 625.4,1772.7 C629.4,1769.4 633.4,1765.6 637.3,1762.8 C641.3,1760.0 645.3,1758.4 649.2,1756.0 C653.2,1753.7 657.2,1751.7 661.2,1748.9 C665.1,1746.1 669.1,1742.3 673.1,1739.0 C677.0,1735.7 681.0,1732.0 685.0,1729.1 C688.9,1726.1 692.2,1723.8 696.9,1721.1 C701.5,1718.5 708.1,1715.7 712.7,1713.2 C717.4,1710.7 720.7,1707.9 724.7,1706.0 C728.6,1704.2 731.9,1704.1 736.6,1702.1 C741.2,1700.1 747.1,1696.4 752.4,1694.1 C757.7,1691.9 763.0,1690.2 768.3,1688.6 C773.6,1687.0 778.9,1686.3 784.2,1684.6 C789.5,1682.9 794.8,1680.1 800.1,1678.3 C805.4,1676.4 810.6,1675.1 815.9,1673.5 C821.2,1671.9 826.5,1670.4 831.8,1668.7 C837.1,1667.1 842.4,1665.1 847.7,1663.6 C853.0,1662.1 858.3,1660.9 863.6,1659.6 C868.9,1658.3 874.1,1657.3 879.4,1655.6 C884.7,1654.0 890.0,1651.5 895.3,1649.7 C900.6,1647.9 905.9,1646.2 911.2,1644.9 C916.5,1643.6 922.4,1642.9 927.1,1641.7 C931.7,1640.6 935.3,1638.4 939.0,1637.8 C942.6,1637.1 947.2,1637.8 948.9,1637.8 L948.9,1750.9 C946.6,1751.9 940.0,1754.5 935.0,1756.8 C930.0,1759.2 924.4,1761.8 919.1,1764.8 C913.8,1767.8 908.5,1771.4 903.2,1774.7 C898.0,1778.0 892.7,1781.6 887.4,1784.6 C882.1,1787.6 876.8,1790.2 871.5,1792.6 C866.2,1794.9 860.9,1796.9 855.6,1798.5 C850.3,1800.2 845.0,1800.8 839.7,1802.5 C834.5,1804.1 829.2,1806.8 823.9,1808.4 C818.6,1810.1 813.3,1811.1 808.0,1812.4 C802.7,1813.7 797.4,1815.4 792.1,1816.4 C786.8,1817.4 781.5,1817.0 776.2,1818.4 C771.0,1819.7 765.7,1822.0 760.4,1824.3 C755.1,1826.6 749.8,1829.6 744.5,1832.2 C739.2,1834.9 733.9,1837.5 728.6,1840.2 C723.3,1842.8 718.0,1845.5 712.7,1848.1 C707.5,1850.8 702.2,1853.4 696.9,1856.1 C691.6,1858.7 686.3,1861.4 681.0,1864.0 C675.7,1866.6 670.4,1869.0 665.1,1871.9 C659.8,1874.9 654.5,1879.2 649.2,1881.9 C644.0,1884.5 638.7,1886.2 633.4,1887.8 C628.1,1889.5 622.8,1890.5 617.5,1891.8 C612.2,1893.1 606.3,1894.2 601.6,1895.7 C597.0,1897.3 593.7,1899.9 589.7,1900.9 C585.7,1901.9 582.4,1902.2 577.8,1901.7 C573.2,1901.2 567.2,1899.4 561.9,1897.7 C556.6,1896.1 551.4,1894.1 546.1,1891.8 C540.8,1889.5 535.5,1886.8 530.2,1883.8 C524.9,1880.9 519.6,1877.6 514.3,1873.9 C509.0,1870.3 503.7,1866.0 498.4,1862.0 C493.1,1858.0 487.9,1854.4 482.6,1850.1 C477.3,1845.8 472.0,1841.2 466.7,1836.2 C461.4,1831.3 456.1,1825.3 450.8,1820.3 C445.5,1815.4 440.2,1811.1 434.9,1806.5 C429.6,1801.8 424.4,1796.9 419.1,1792.6 C413.8,1788.3 408.5,1784.6 403.2,1780.7 C397.9,1776.7 392.6,1772.4 387.3,1768.7 C382.0,1765.1 376.7,1761.5 371.4,1758.8 C366.1,1756.2 360.9,1754.9 355.6,1752.9 C350.3,1750.9 345.0,1748.6 339.7,1746.9 C334.4,1745.3 328.8,1743.0 323.8,1743.0 C318.9,1743.0 312.2,1746.3 309.9,1746.9Z" fill="#9db5e1" fill-opacity="0.8"/>
<path d="M311.5,1637.1 L324.1,1637.3 L336.6,1634.7 L349.2,1636.2 L361.7,1639.9 L374.3,1648.3 L386.9,1657.3 L399.4,1667.6 L412.0,1673.3 L424.5,1683.7 L437.1,1701.8 L449.7,1718.4 L462.2,1739.1 L474.8,1752.3 L487.3,1763.6 L499.9,1775.3 L512.5,1785.7 L525.0,1792.8 L537.6,1795.1 L550.2,1796.5 L562.7,1798.2 L575.3,1793.5 L587.8,1794.5 L600.4,1793.2 L613.0,1787.5 L625.5,1782.2 L637.3,1775.9" fill="none" stroke="#ed7d31" stroke-width="6" stroke-linejoin="round" stroke-linecap="round"/>
<path d="M311.5,1630.1L317.9,1637.1L311.5,1644.1L305.1,1637.1ZM324.1,1630.3L330.5,1637.3L324.1,1644.3L317.7,1637.3ZM336.6,1627.7L343.0,1634.7L336.6,1641.7L330.2,1634.7ZM349.2,1629.2L355.6,1636.2L349.2,1643.2L342.8,1636.2ZM361.7,1632.9L368.1,1639.9L361.7,1646.9L355.3,1639.9ZM374.3,1641.3L380.7,1648.3L374.3,1655.3L367.9,1648.3ZM386.9,1650.3L393.3,1657.3L386.9,1664.3L380.5,1657.3ZM399.4,1660.6L405.8,1667.6L399.4,1674.6L393.0,1667.6ZM412.0,1666.3L418.4,1673.3L412.0,1680.3L405.6,1673.3ZM424.5,1676.7L430.9,1683.7L424.5,1690.7L418.1,1683.7ZM437.1,1694.8L443.5,1701.8L437.1,1708.8L430.7,1701.8ZM449.7,1711.4L456.1,1718.4L449.7,1725.4L443.3,1718.4ZM462.2,1732.1L468.6,1739.1L462.2,1746.1L455.8,1739.1ZM474.8,1745.3L481.2,1752.3L474.8,1759.3L468.4,1752.3ZM487.3,1756.6L493.7,1763.6L487.3,1770.6L480.9,1763.6ZM499.9,1768.3L506.3,1775.3L499.9,1782.3L493.5,1775.3ZM512.5,1778.7L518.9,1785.7L512.5,1792.7L506.1,1785.7ZM525.0,1785.8L531.4,1792.8L525.0,1799.8L518.6,1792.8ZM537.6,1788.1L544.0,1795.1L537.6,1802.1L531.2,1795.1ZM550.2,1789.5L556.6,1796.5L550.2,1803.5L543.8,1796.5ZM562.7,1791.2L569.1,1798.2L562.7,1805.2L556.3,1798.2ZM575.3,1786.5L581.7,1793.5L575.3,1800.5L568.9,1793.5ZM587.8,1787.5L594.2,1794.5L587.8,1801.5L581.4,1794.5ZM600.4,1786.2L606.8,1793.2L600.4,1800.2L594.0,1793.2ZM613.0,1780.5L619.4,1787.5L613.0,1794.5L606.6,1787.5ZM625.5,1775.2L631.9,1782.2L625.5,1789.2L619.1,1782.2ZM637.3,1768.9L643.7,1775.9L637.3,1782.9L630.9,1775.9Z" fill="#ed7d31"/>
<path d="M309.9,1685.4 C312.2,1684.7 318.9,1681.9 323.8,1681.4 C328.8,1681.0 335.1,1681.8 339.7,1682.6 C344.3,1683.4 347.6,1684.2 351.6,1686.2 C355.6,1688.2 359.5,1692.7 363.5,1694.5 C367.5,1696.4 371.4,1695.5 375.4,1697.3 C379.4,1699.1 382.7,1702.9 387.3,1705.2 C391.9,1707.6 398.6,1709.2 403.2,1711.2 C407.8,1713.2 411.1,1714.5 415.1,1717.2 C419.1,1719.8 423.0,1723.1 427.0,1727.1 C431.0,1731.0 434.9,1736.0 438.9,1741.0 C442.9,1745.9 446.8,1752.0 450.8,1756.8 C454.8,1761.7 458.7,1767.3 462.7,1769.9 C466.7,1772.6 470.7,1771.3 474.6,1772.7 C478.6,1774.2 482.6,1776.7 486.5,1778.7 C490.5,1780.7 494.5,1782.6 498.4,1784.6 C502.4,1786.6 506.4,1789.4 510.3,1790.6 C514.3,1791.8 517.6,1791.4 522.2,1791.8 C526.9,1792.1 532.8,1792.3 538.1,1792.6 C543.4,1792.8 548.7,1792.8 554.0,1793.4 C559.3,1793.9 565.9,1795.2 569.9,1795.7 C573.8,1796.3 574.5,1796.7 577.8,1796.5 C581.1,1796.3 585.7,1795.5 589.7,1794.5 C593.7,1793.6 597.7,1792.6 601.6,1790.6 C605.6,1788.6 609.6,1785.6 613.5,1782.6 C617.5,1779.7 621.5,1776.0 625.4,1772.7 C629.4,1769.4 633.4,1765.6 637.3,1762.8 C641.3,1760.0 645.3,1758.4 649.2,1756.0 C653.2,1753.7 657.2,1751.7 661.2,1748.9 C665.1,1746.1 669.1,1742.3 673.1,1739.0 C677.0,1735.7 681.0,1732.0 685.0,1729.1 C688.9,1726.1 692.2,1723.8 696.9,1721.1 C701.5,1718.5 708.1,1715.7 712.7,1713.2 C717.4,1710.7 720.7,1707.9 724.7,1706.0 C728.6,1704.2 731.9,1704.1 736.6,1702.1 C741.2,1700.1 747.1,1696.4 752.4,1694.1 C757.7,1691.9 763.0,1690.2 768.3,1688.6 C773.6,1687.0 778.9,1686.3 784.2,1684.6 C789.5,1682.9 794.8,1680.1 800.1,1678.3 C805.4,1676.4 810.6,1675.1 815.9,1673.5 C821.2,1671.9 826.5,1670.4 831.8,1668.7 C837.1,1667.1 842.4,1665.1 847.7,1663.6 C853.0,1662.1 858.3,1660.9 863.6,1659.6 C868.9,1658.3 874.1,1657.3 879.4,1655.6 C884.7,1654.0 890.0,1651.5 895.3,1649.7 C900.6,1647.9 905.9,1646.2 911.2,1644.9 C916.5,1643.6 922.4,1642.9 927.1,1641.7 C931.7,1640.6 935.3,1638.4 939.0,1637.8 C942.6,1637.1 947.2,1637.8 948.9,1637.8" fill="none" stroke="#70ad47" stroke-width="6" stroke-linejoin="round" stroke-linecap="round"/>
<path d="M309.9,1722.3 C312.2,1721.9 318.9,1720.1 323.8,1719.9 C328.8,1719.7 335.1,1720.5 339.7,1721.1 C344.3,1721.8 346.3,1721.9 351.6,1723.9 C356.9,1725.9 365.5,1729.9 371.4,1733.0 C377.4,1736.2 382.0,1739.5 387.3,1743.0 C392.6,1746.4 397.9,1749.7 403.2,1753.7 C408.5,1757.6 413.8,1762.3 419.1,1766.8 C424.4,1771.3 429.6,1775.7 434.9,1780.7 C440.2,1785.6 445.5,1791.6 450.8,1796.5 C456.1,1801.5 461.4,1805.8 466.7,1810.4 C472.0,1815.1 477.3,1819.7 482.6,1824.3 C487.9,1828.9 493.1,1833.6 498.4,1838.2 C503.7,1842.8 509.0,1848.5 514.3,1852.1 C519.6,1855.7 524.9,1858.0 530.2,1860.0 C535.5,1862.0 540.8,1863.0 546.1,1864.0 C551.4,1865.0 557.3,1865.5 561.9,1866.0 C566.6,1866.5 569.9,1867.2 573.8,1867.2 C577.8,1867.2 581.1,1866.7 585.7,1866.0 C590.4,1865.3 596.3,1864.1 601.6,1862.8 C606.9,1861.5 612.2,1860.2 617.5,1858.0 C622.8,1855.9 628.1,1853.1 633.4,1850.1 C638.7,1847.1 644.0,1843.5 649.2,1840.2 C654.5,1836.9 659.8,1833.9 665.1,1830.3 C670.4,1826.6 675.7,1822.3 681.0,1818.4 C686.3,1814.4 691.6,1810.4 696.9,1806.5 C702.2,1802.5 707.5,1798.2 712.7,1794.5 C718.0,1790.9 723.3,1787.9 728.6,1784.6 C733.9,1781.3 739.2,1777.7 744.5,1774.7 C749.8,1771.7 755.1,1768.9 760.4,1766.8 C765.7,1764.6 771.0,1763.1 776.2,1761.6 C781.5,1760.1 786.8,1759.2 792.1,1757.6 C797.4,1756.0 802.7,1753.9 808.0,1752.1 C813.3,1750.3 818.6,1748.6 823.9,1746.9 C829.2,1745.3 834.5,1743.8 839.7,1742.2 C845.0,1740.5 850.3,1738.7 855.6,1737.0 C860.9,1735.3 866.2,1733.8 871.5,1731.8 C876.8,1729.9 882.1,1727.5 887.4,1725.1 C892.7,1722.6 898.0,1719.7 903.2,1717.2 C908.5,1714.6 913.8,1712.2 919.1,1710.0 C924.4,1707.8 930.0,1705.5 935.0,1704.1 C940.0,1702.6 946.6,1701.7 948.9,1701.3" fill="none" stroke="#2f5597" stroke-width="6" stroke-linejoin="round" stroke-linecap="round"/>
<text x="604.3" y="1612.5" text-anchor="middle" font-size="28">Natural Gas Mountain Storage</text>
<text x="282.7" y="1632.3" text-anchor="end" font-size="21.7">300</text>
<text x="282.7" y="1695.0" text-anchor="end" font-size="21.7">250</text>
<text x="282.7" y="1757.7" text-anchor="end" font-size="21.7">200</text>
<text x="282.7" y="1820.5" text-anchor="end" font-size="21.7">150</text>
<text x="282.7" y="1883.2" text-anchor="end" font-size="21.7">100</text>
<text x="282.7" y="1945.9" text-anchor="end" font-size="21.7">50</text>
<text transform="translate(204.5,1757.8) rotate(-90)" text-anchor="middle" font-size="23">Billion Cubic Feet</text>
<text x="311.5" y="1978.1" text-anchor="middle" font-size="21">Nov</text>
<text x="423.6" y="1978.1" text-anchor="middle" font-size="21">Jan</text>
<text x="536.7" y="1978.1" text-anchor="middle" font-size="21">Mar</text>
<text x="649.2" y="1978.1" text-anchor="middle" font-size="21">May</text>
<text x="761.3" y="1978.1" text-anchor="middle" font-size="21">Jul</text>
<text x="911.9" y="1978.1" text-anchor="middle" font-size="21">Oct</text>
<rect x="739.2" y="1857.4" width="213.5" height="79.8" fill="#fff" stroke="#000" stroke-width="2"/>
<rect x="765.2" y="1865.3" width="52.9" height="11" fill="#9db5e1" fill-opacity="0.8"/>
<text x="824.8" y="1876.5" font-size="16.5">5-Year Range</text>
<line x1="767.2" y1="1897.3" x2="818.1" y2="1897.3" stroke="#ed7d31" stroke-width="6" stroke-linecap="round"/>
<path d="M792.7,1890.3L799.1,1897.3L792.7,1904.3L786.3,1897.3Z" fill="#ed7d31"/>
<text x="824.8" y="1903.0" font-size="16.5">2024-2025</text>
<line x1="767.2" y1="1924.7" x2="818.1" y2="1924.7" stroke="#70ad47" stroke-width="6" stroke-linecap="round"/>
<text x="824.8" y="1930.4" font-size="16.5">2023-2024</text></g>
<g><text x="1270.4" y="1813.2" font-family="Liberation Serif" font-weight="400" font-size="81" fill="#7d8089" stroke="#7d8089" stroke-width="1.2" textLength="290.3" lengthAdjust="spacingAndGlyphs">StoneX</text>
<text x="1562.7" y="1766.7" font-weight="400" font-size="11" fill="#7d8089" opacity="0.7">®</text>
<line x1="1112.3" y1="1627.9" x2="1731.9" y2="1627.9" stroke="#d6d6d6" stroke-width="1.7"/>
<line x1="1112.3" y1="1680.1" x2="1731.9" y2="1680.1" stroke="#d6d6d6" stroke-width="1.7"/>
<line x1="1112.3" y1="1732.3" x2="1731.9" y2="1732.3" stroke="#d6d6d6" stroke-width="1.7"/>
<line x1="1112.3" y1="1784.5" x2="1731.9" y2="1784.5" stroke="#d6d6d6" stroke-width="1.7"/>
<line x1="1112.3" y1="1836.7" x2="1731.9" y2="1836.7" stroke="#d6d6d6" stroke-width="1.7"/>
<line x1="1112.3" y1="1888.9" x2="1731.9" y2="1888.9" stroke="#d6d6d6" stroke-width="1.7"/>
<line x1="1112.3" y1="1941.1" x2="1731.9" y2="1941.1" stroke="#d6d6d6" stroke-width="1.7"/>
<path d="M1117.9,1659.6 C1119.5,1659.3 1124.1,1657.6 1127.8,1657.6 C1131.4,1657.6 1135.1,1659.1 1139.7,1659.6 C1144.3,1660.1 1150.9,1660.1 1155.6,1660.8 C1160.2,1661.5 1163.5,1661.8 1167.5,1663.6 C1171.4,1665.4 1174.7,1668.9 1179.4,1671.5 C1184.0,1674.2 1190.0,1677.5 1195.2,1679.5 C1200.5,1681.4 1205.8,1682.1 1211.1,1683.4 C1216.4,1684.7 1222.4,1685.1 1227.0,1687.4 C1231.6,1689.7 1234.9,1694.0 1238.9,1697.3 C1242.9,1700.6 1246.8,1705.6 1250.8,1707.2 C1254.8,1708.9 1258.7,1705.6 1262.7,1707.2 C1266.7,1708.9 1270.7,1713.8 1274.6,1717.2 C1278.6,1720.5 1282.6,1723.1 1286.5,1727.1 C1290.5,1731.0 1295.1,1736.0 1298.4,1741.0 C1301.7,1745.9 1303.7,1752.5 1306.4,1756.8 C1309.0,1761.1 1311.0,1764.8 1314.3,1766.8 C1317.6,1768.7 1322.2,1768.7 1326.2,1768.7 C1330.2,1768.7 1333.5,1768.1 1338.1,1766.8 C1342.8,1765.4 1348.7,1762.8 1354.0,1760.8 C1359.3,1758.8 1364.6,1756.3 1369.9,1754.9 C1375.2,1753.4 1380.5,1753.4 1385.7,1752.1 C1391.0,1750.8 1396.3,1749.4 1401.6,1746.9 C1406.9,1744.4 1412.2,1740.3 1417.5,1737.0 C1422.8,1733.7 1428.1,1730.4 1433.4,1727.1 C1438.7,1723.8 1444.0,1720.8 1449.2,1717.2 C1454.5,1713.5 1459.8,1709.2 1465.1,1705.2 C1470.4,1701.3 1475.7,1696.7 1481.0,1693.3 C1486.3,1690.0 1491.6,1688.1 1496.9,1685.4 C1502.2,1682.8 1507.5,1679.8 1512.7,1677.5 C1518.0,1675.2 1523.3,1673.0 1528.6,1671.5 C1533.9,1670.1 1539.2,1669.2 1544.5,1668.7 C1549.8,1668.3 1555.1,1668.5 1560.4,1668.7 C1565.7,1669.0 1571.0,1670.3 1576.2,1670.3 C1581.5,1670.3 1586.8,1669.4 1592.1,1668.7 C1597.4,1668.1 1602.7,1666.6 1608.0,1666.4 C1613.3,1666.2 1618.6,1666.7 1623.9,1667.5 C1629.2,1668.4 1634.5,1671.2 1639.7,1671.5 C1645.0,1671.8 1650.3,1670.5 1655.6,1669.5 C1660.9,1668.5 1666.2,1666.8 1671.5,1665.6 C1676.8,1664.4 1682.1,1663.4 1687.4,1662.4 C1692.7,1661.4 1698.6,1660.5 1703.2,1659.6 C1707.9,1658.7 1711.2,1657.3 1715.2,1656.8 C1719.1,1656.4 1725.1,1656.8 1727.1,1656.8 L1727.1,1733.8 C1725.1,1733.8 1719.1,1733.6 1715.2,1733.8 C1711.2,1734.0 1707.9,1734.2 1703.2,1735.0 C1698.6,1735.9 1692.7,1737.3 1687.4,1739.0 C1682.1,1740.6 1676.8,1743.4 1671.5,1744.9 C1666.2,1746.5 1660.9,1747.8 1655.6,1748.1 C1650.3,1748.4 1645.0,1747.8 1639.7,1746.9 C1634.5,1746.1 1629.2,1743.3 1623.9,1743.0 C1618.6,1742.6 1613.3,1744.3 1608.0,1744.9 C1602.7,1745.6 1597.4,1745.7 1592.1,1746.9 C1586.8,1748.1 1581.5,1751.1 1576.2,1752.1 C1571.0,1753.1 1565.7,1752.1 1560.4,1752.9 C1555.1,1753.7 1549.8,1755.2 1544.5,1756.8 C1539.2,1758.5 1533.9,1759.5 1528.6,1762.8 C1523.3,1766.1 1518.0,1771.1 1512.7,1776.7 C1507.5,1782.3 1502.2,1789.6 1496.9,1796.5 C1491.6,1803.5 1486.3,1811.4 1481.0,1818.4 C1475.7,1825.3 1470.4,1831.6 1465.1,1838.2 C1459.8,1844.8 1454.5,1851.8 1449.2,1858.0 C1444.0,1864.3 1438.7,1870.3 1433.4,1875.9 C1428.1,1881.5 1422.8,1886.8 1417.5,1891.8 C1412.2,1896.7 1406.9,1901.7 1401.6,1905.7 C1396.3,1909.6 1391.0,1913.8 1385.7,1915.6 C1380.5,1917.4 1375.2,1916.1 1369.9,1916.4 C1364.6,1916.7 1359.3,1917.4 1354.0,1917.6 C1348.7,1917.8 1343.4,1918.6 1338.1,1917.6 C1332.8,1916.6 1327.5,1915.3 1322.2,1911.6 C1317.0,1908.0 1311.7,1901.0 1306.4,1895.7 C1301.1,1890.5 1295.8,1885.2 1290.5,1879.9 C1285.2,1874.6 1279.3,1868.6 1274.6,1864.0 C1270.0,1859.4 1266.7,1856.1 1262.7,1852.1 C1258.7,1848.1 1255.4,1843.5 1250.8,1840.2 C1246.2,1836.9 1240.2,1834.9 1234.9,1832.2 C1229.6,1829.6 1223.7,1828.9 1219.1,1824.3 C1214.4,1819.7 1211.1,1811.7 1207.2,1804.5 C1203.2,1797.2 1199.9,1787.9 1195.2,1780.7 C1190.6,1773.4 1184.7,1765.8 1179.4,1760.8 C1174.1,1755.9 1168.8,1753.9 1163.5,1750.9 C1158.2,1747.9 1152.9,1745.4 1147.6,1743.0 C1142.3,1740.5 1136.7,1737.5 1131.7,1736.2 C1126.8,1734.9 1120.2,1735.2 1117.9,1735.0Z" fill="#9db5e1" fill-opacity="0.8"/>
<path d="M1118.5,1669.1 L1130.5,1667.1 L1142.5,1666.3 L1154.4,1668.7 L1166.4,1670.7 L1178.4,1678.4 L1190.4,1684.4 L1202.3,1686.8 L1214.3,1684.7 L1226.3,1687.6 L1238.3,1696.8 L1250.2,1712.4 L1262.2,1738.8 L1274.2,1751.3 L1286.2,1760.5 L1298.2,1773.7 L1310.1,1784.6 L1322.1,1785.9 L1334.1,1789.2 L1346.1,1791.2 L1358.0,1789.9 L1370.0,1783.0 L1382.0,1778.0 L1394.0,1772.3 L1405.9,1765.4 L1417.9,1758.2 L1429.9,1750.0" fill="none" stroke="#ed7d31" stroke-width="6" stroke-linejoin="round" stroke-linecap="round"/>
<path d="M1118.5,1662.1L1124.9,1669.1L1118.5,1676.1L1112.1,1669.1ZM1130.5,1660.1L1136.9,1667.1L1130.5,1674.1L1124.1,1667.1ZM1142.5,1659.3L1148.9,1666.3L1142.5,1673.3L1136.1,1666.3ZM1154.4,1661.7L1160.8,1668.7L1154.4,1675.7L1148.0,1668.7ZM1166.4,1663.7L1172.8,1670.7L1166.4,1677.7L1160.0,1670.7ZM1178.4,1671.4L1184.8,1678.4L1178.4,1685.4L1172.0,1678.4ZM1190.4,1677.4L1196.8,1684.4L1190.4,1691.4L1184.0,1684.4ZM1202.3,1679.8L1208.7,1686.8L1202.3,1693.8L1195.9,1686.8ZM1214.3,1677.7L1220.7,1684.7L1214.3,1691.7L1207.9,1684.7ZM1226.3,1680.6L1232.7,1687.6L1226.3,1694.6L1219.9,1687.6ZM1238.3,1689.8L1244.7,1696.8L1238.3,1703.8L1231.9,1696.8ZM1250.2,1705.4L1256.6,1712.4L1250.2,1719.4L1243.8,1712.4ZM1262.2,1731.8L1268.6,1738.8L1262.2,1745.8L1255.8,1738.8ZM1274.2,1744.3L1280.6,1751.3L1274.2,1758.3L1267.8,1751.3ZM1286.2,1753.5L1292.6,1760.5L1286.2,1767.5L1279.8,1760.5ZM1298.2,1766.7L1304.6,1773.7L1298.2,1780.7L1291.8,1773.7ZM1310.1,1777.6L1316.5,1784.6L1310.1,1791.6L1303.7,1784.6ZM1322.1,1778.9L1328.5,1785.9L1322.1,1792.9L1315.7,1785.9ZM1334.1,1782.2L1340.5,1789.2L1334.1,1796.2L1327.7,1789.2ZM1346.1,1784.2L1352.5,1791.2L1346.1,1798.2L1339.7,1791.2ZM1358.0,1782.9L1364.4,1789.9L1358.0,1796.9L1351.6,1789.9ZM1370.0,1776.0L1376.4,1783.0L1370.0,1790.0L1363.6,1783.0ZM1382.0,1771.0L1388.4,1778.0L1382.0,1785.0L1375.6,1778.0ZM1394.0,1765.3L1400.4,1772.3L1394.0,1779.3L1387.6,1772.3ZM1405.9,1758.4L1412.3,1765.4L1405.9,1772.4L1399.5,1765.4ZM1417.9,1751.2L1424.3,1758.2L1417.9,1765.2L1411.5,1758.2ZM1429.9,1743.0L1436.3,1750.0L1429.9,1757.0L1423.5,1750.0Z" fill="#ed7d31"/>
<path d="M1117.9,1695.3 C1120.2,1694.0 1126.1,1689.7 1131.7,1687.4 C1137.4,1685.1 1146.0,1680.8 1151.6,1681.4 C1157.2,1682.1 1160.9,1689.6 1165.5,1691.4 C1170.1,1693.1 1174.4,1691.0 1179.4,1692.2 C1184.3,1693.3 1190.0,1696.6 1195.2,1698.1 C1200.5,1699.6 1206.5,1700.1 1211.1,1701.3 C1215.8,1702.5 1219.1,1701.9 1223.0,1705.2 C1227.0,1708.6 1231.0,1713.2 1234.9,1721.1 C1238.9,1729.1 1242.9,1746.4 1246.8,1752.9 C1250.8,1759.4 1254.8,1759.4 1258.7,1760.0 C1262.7,1760.7 1266.0,1756.7 1270.7,1756.8 C1275.3,1757.0 1281.9,1759.3 1286.5,1760.8 C1291.2,1762.3 1294.5,1765.1 1298.4,1766.0 C1302.4,1766.8 1306.4,1766.2 1310.3,1766.0 C1314.3,1765.8 1318.3,1764.0 1322.2,1764.8 C1326.2,1765.6 1330.2,1770.4 1334.2,1770.7 C1338.1,1771.1 1342.1,1768.6 1346.1,1766.8 C1350.0,1764.9 1353.3,1761.6 1358.0,1759.6 C1362.6,1757.6 1368.6,1756.1 1373.8,1754.9 C1379.1,1753.6 1384.4,1753.6 1389.7,1752.1 C1395.0,1750.6 1400.3,1748.1 1405.6,1745.7 C1410.9,1743.3 1416.2,1740.4 1421.5,1737.8 C1426.8,1735.1 1432.1,1732.6 1437.3,1729.9 C1442.6,1727.1 1447.9,1724.0 1453.2,1721.1 C1458.5,1718.2 1463.8,1714.8 1469.1,1712.4 C1474.4,1709.9 1479.7,1708.0 1485.0,1706.4 C1490.3,1704.9 1495.5,1704.5 1500.8,1703.3 C1506.1,1702.1 1512.1,1700.2 1516.7,1699.3 C1521.3,1698.4 1525.3,1699.1 1528.6,1698.1 C1531.9,1697.1 1532.6,1694.3 1536.6,1693.3 C1540.5,1692.4 1547.1,1692.5 1552.4,1692.5 C1557.7,1692.5 1564.3,1692.9 1568.3,1693.3 C1572.3,1693.8 1572.9,1695.5 1576.2,1695.3 C1579.6,1695.2 1583.5,1692.9 1588.2,1692.5 C1592.8,1692.2 1598.7,1693.2 1604.0,1693.3 C1609.3,1693.5 1615.3,1693.6 1619.9,1693.3 C1624.5,1693.1 1627.8,1691.4 1631.8,1691.8 C1635.8,1692.1 1639.7,1694.4 1643.7,1695.3 C1647.7,1696.3 1651.0,1698.3 1655.6,1697.3 C1660.3,1696.3 1666.9,1691.2 1671.5,1689.4 C1676.1,1687.6 1678.1,1686.9 1683.4,1686.6 C1688.7,1686.3 1698.0,1688.4 1703.2,1687.4 C1708.5,1686.4 1711.2,1682.8 1715.2,1680.6 C1719.1,1678.5 1725.1,1675.4 1727.1,1674.3" fill="none" stroke="#70ad47" stroke-width="6" stroke-linejoin="round" stroke-linecap="round"/>
<path d="M1117.9,1701.3 C1120.2,1701.1 1126.1,1700.2 1131.7,1700.1 C1137.4,1700.0 1145.6,1699.6 1151.6,1700.5 C1157.5,1701.3 1162.2,1703.3 1167.5,1705.2 C1172.8,1707.2 1178.1,1709.4 1183.3,1712.4 C1188.6,1715.4 1193.9,1719.3 1199.2,1723.1 C1204.5,1726.9 1209.8,1731.0 1215.1,1735.0 C1220.4,1739.0 1225.7,1741.6 1231.0,1746.9 C1236.3,1752.2 1241.6,1762.3 1246.8,1766.8 C1252.1,1771.3 1257.4,1771.5 1262.7,1773.9 C1268.0,1776.4 1273.3,1778.7 1278.6,1781.4 C1283.9,1784.2 1289.2,1787.3 1294.5,1790.6 C1299.8,1793.9 1305.1,1797.7 1310.3,1801.3 C1315.6,1804.9 1320.9,1809.8 1326.2,1812.4 C1331.5,1815.1 1336.8,1816.4 1342.1,1817.2 C1347.4,1818.0 1352.7,1817.6 1358.0,1817.2 C1363.3,1816.7 1368.6,1815.8 1373.8,1814.4 C1379.1,1812.9 1384.4,1810.8 1389.7,1808.4 C1395.0,1806.1 1400.3,1803.5 1405.6,1800.5 C1410.9,1797.5 1416.2,1794.2 1421.5,1790.6 C1426.8,1786.9 1432.1,1782.8 1437.3,1778.7 C1442.6,1774.5 1447.9,1769.9 1453.2,1765.6 C1458.5,1761.3 1463.8,1757.3 1469.1,1752.9 C1474.4,1748.4 1480.3,1741.5 1485.0,1739.0 C1489.6,1736.5 1492.2,1739.4 1496.9,1737.8 C1501.5,1736.1 1507.5,1731.8 1512.7,1729.1 C1518.0,1726.3 1523.3,1723.4 1528.6,1721.1 C1533.9,1718.8 1539.2,1716.2 1544.5,1715.2 C1549.8,1714.2 1555.1,1715.1 1560.4,1715.2 C1565.7,1715.2 1571.0,1715.7 1576.2,1715.6 C1581.5,1715.4 1586.8,1714.4 1592.1,1714.4 C1597.4,1714.3 1602.7,1714.9 1608.0,1715.2 C1613.3,1715.4 1618.6,1716.0 1623.9,1716.0 C1629.2,1716.0 1634.5,1715.3 1639.7,1715.2 C1645.0,1715.0 1650.3,1716.2 1655.6,1715.2 C1660.9,1714.2 1666.2,1710.9 1671.5,1709.2 C1676.8,1707.6 1682.1,1706.4 1687.4,1705.2 C1692.7,1704.1 1698.6,1703.5 1703.2,1702.5 C1707.9,1701.5 1711.2,1700.2 1715.2,1699.3 C1719.1,1698.4 1725.1,1697.6 1727.1,1697.3" fill="none" stroke="#2f5597" stroke-width="6" stroke-linejoin="round" stroke-linecap="round"/>
<text x="1391.5" y="1614.4" text-anchor="middle" font-size="28">Natural Gas Pacific Storage</text>
<text x="1089.7" y="1634.7" text-anchor="end" font-size="21.7">350</text>
<text x="1089.7" y="1686.9" text-anchor="end" font-size="21.7">300</text>
<text x="1089.7" y="1739.1" text-anchor="end" font-size="21.7">250</text>
<text x="1089.7" y="1791.3" text-anchor="end" font-size="21.7">200</text>
<text x="1089.7" y="1843.5" text-anchor="end" font-size="21.7">150</text>
<text x="1089.7" y="1895.7" text-anchor="end" font-size="21.7">100</text>
<text x="1089.7" y="1947.9" text-anchor="end" font-size="21.7">50</text>
<text transform="translate(1018.3,1759.7) rotate(-90)" text-anchor="middle" font-size="23">Billion Cubic Feet</text>
<text x="1118.5" y="1979.1" text-anchor="middle" font-size="21">Nov</text>
<text x="1225.3" y="1979.1" text-anchor="middle" font-size="21">Jan</text>
<text x="1333.6" y="1979.1" text-anchor="middle" font-size="21">Mar</text>
<text x="1440.8" y="1979.1" text-anchor="middle" font-size="21">May</text>
<text x="1547.6" y="1979.1" text-anchor="middle" font-size="21">Jul</text>
<text x="1691" y="1979.1" text-anchor="middle" font-size="21">Oct</text>
<rect x="1537.6" y="1825.2" width="194.2" height="112.5" fill="#fff" stroke="#000" stroke-width="2"/>
<rect x="1553.4" y="1833.1" width="54.4" height="11" fill="#9db5e1" fill-opacity="0.8"/>
<text x="1612.6" y="1844.3" font-size="16.5">5-Year Range</text>
<line x1="1555.4" y1="1868.4" x2="1607.8" y2="1868.4" stroke="#ed7d31" stroke-width="6" stroke-linecap="round"/>
<path d="M1581.6,1861.4L1588.0,1868.4L1581.6,1875.4L1575.2,1868.4Z" fill="#ed7d31"/>
<text x="1612.6" y="1874.1" font-size="16.5">2024-2025</text>
<line x1="1555.4" y1="1896.3" x2="1607.8" y2="1896.3" stroke="#70ad47" stroke-width="6" stroke-linecap="round"/>
<text x="1612.6" y="1902.0" font-size="16.5">2023-2024</text>
<line x1="1555.4" y1="1926.2" x2="1607.8" y2="1926.2" stroke="#2f5597" stroke-width="6" stroke-linecap="round"/>
<text x="1612.6" y="1931.9" font-size="16.5">5-year Avg.</text></g>
</svg></div>

<div style="position:absolute;left:82px;top:2438px;width:1756px;height:2px;background:#2a2a2a;"></div>
<div class="abs" style="left:163px;top:2474px;font-size:24.4px;font-weight:700;">Weekly Natural Gas Report</div>
<div class="abs" style="left:1728px;top:2473px;font-size:25.5px;">2/3</div>
</body></html>
